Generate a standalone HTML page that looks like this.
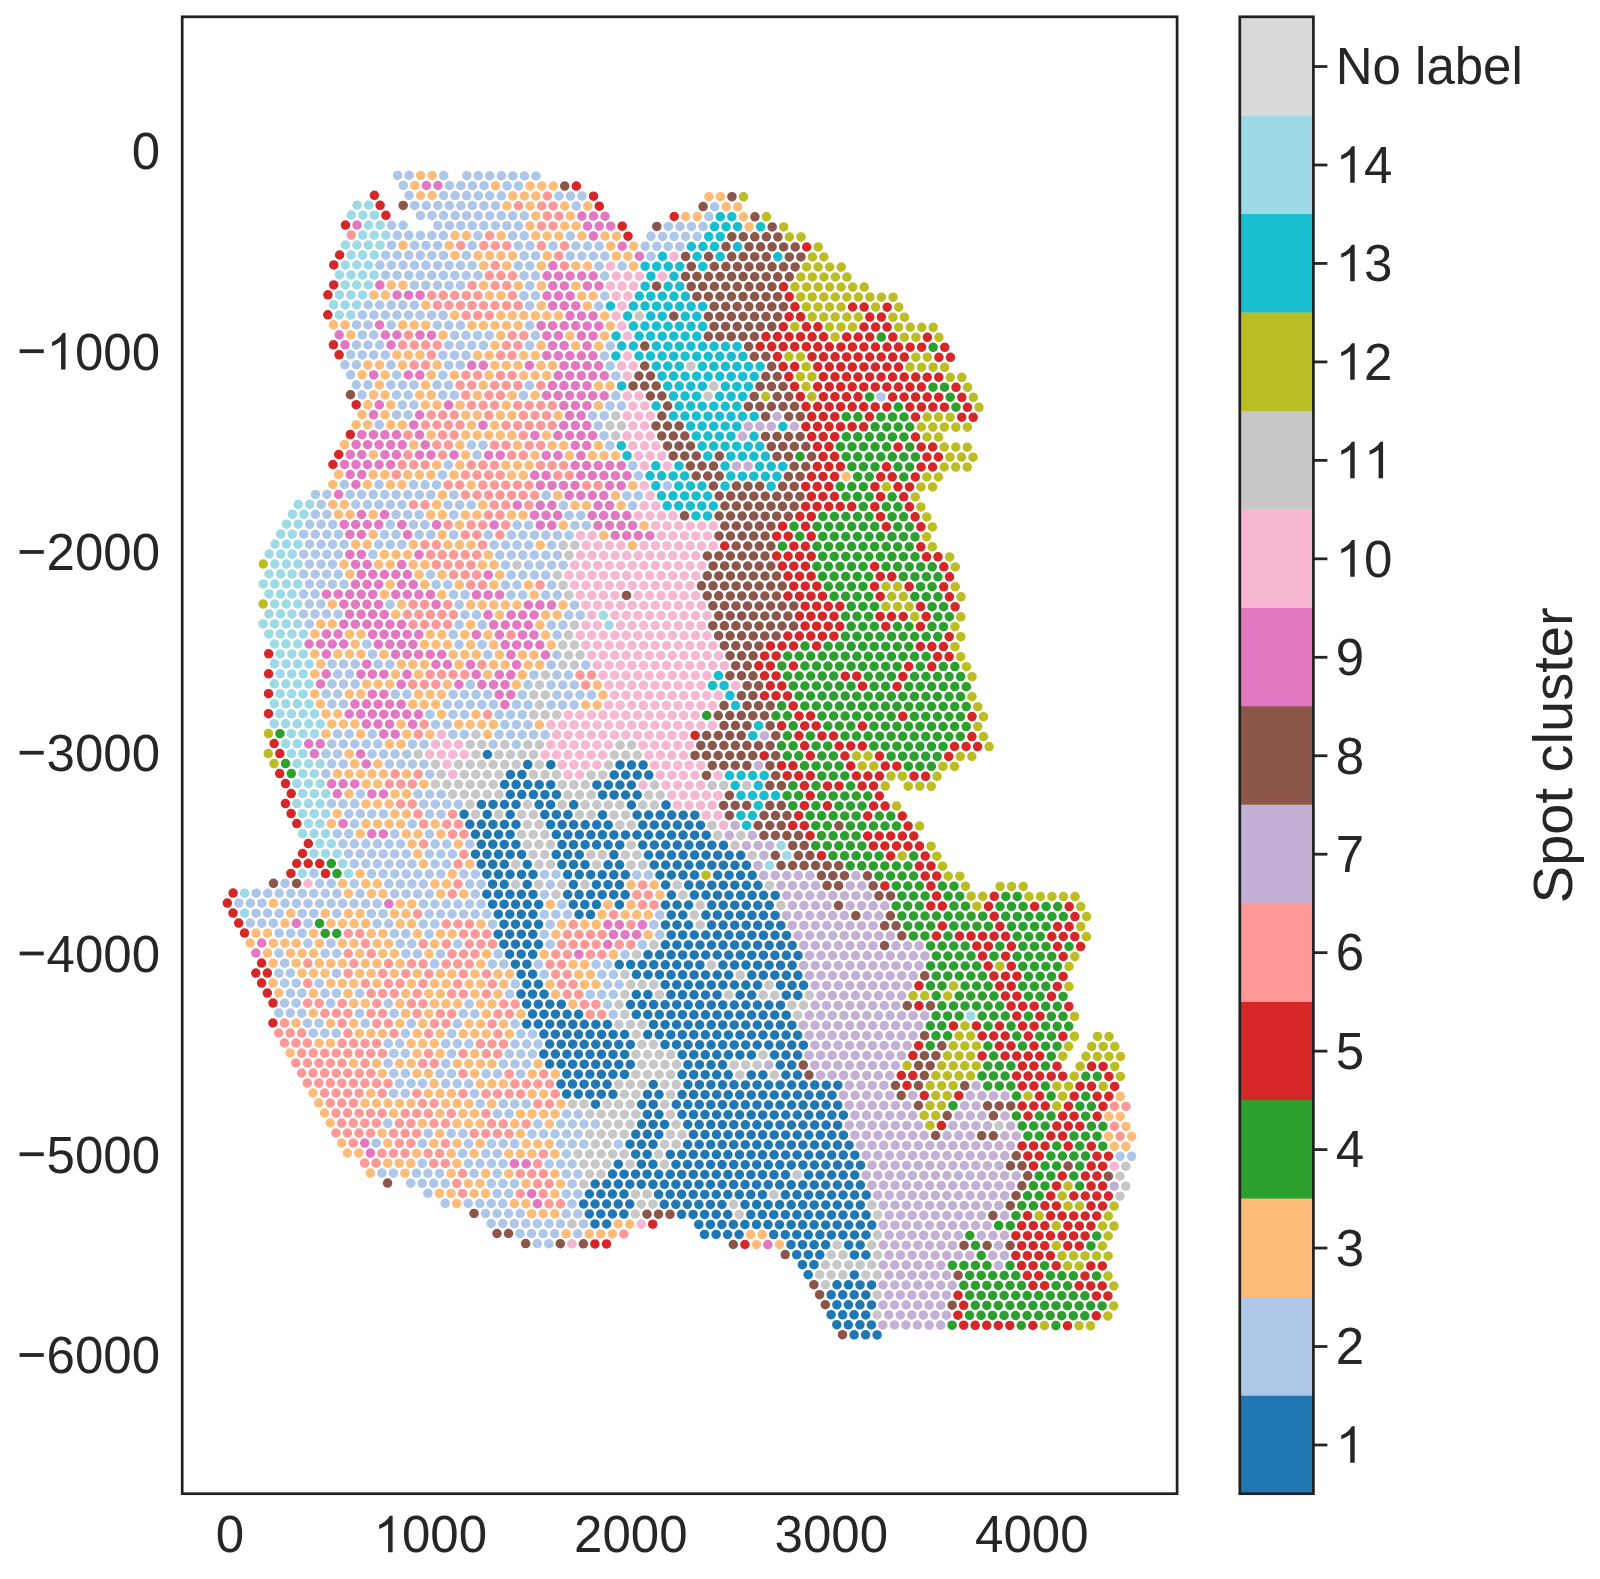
<!DOCTYPE html><html><head><meta charset="utf-8"><style>html,body{margin:0;padding:0;background:#fff;}svg{display:block}</style></head><body>
<svg width="1600" height="1579" viewBox="0 0 1600 1579" style="font-family:'Liberation Sans', sans-serif">
<rect x="0" y="0" width="1600" height="1579" fill="#fff"/>
<path fill="none" stroke="#aec7e8" stroke-width="9.54" stroke-linecap="round" d="M397.6 175.4h0M409.1 175.4h0M443.7 175.6h0M466.8 175.7h0M478.3 175.7h0M489.8 175.8h0M501.4 175.8h0M512.9 175.9h0M524.4 175.9h0M536.0 176.0h0M403.3 185.4h0M449.4 185.6h0M460.9 185.6h0M472.5 185.7h0M484.0 185.7h0M507.1 185.8h0M518.6 185.9h0M409.0 195.4h0M443.6 195.5h0M455.1 195.6h0M466.7 195.6h0M478.2 195.7h0M489.7 195.7h0M501.3 195.8h0M558.9 196.0h0M570.5 196.1h0M582.0 196.1h0M414.7 205.4h0M426.3 205.5h0M437.8 205.5h0M449.3 205.5h0M460.9 205.6h0M472.4 205.6h0M483.9 205.7h0M495.5 205.7h0M576.2 206.1h0M714.6 206.7h0M420.5 215.4h0M432.0 215.5h0M443.5 215.5h0M455.1 215.6h0M466.6 215.6h0M478.1 215.6h0M489.7 215.7h0M501.2 215.7h0M512.7 215.8h0M524.3 215.8h0M708.8 216.6h0M391.6 225.3h0M403.1 225.3h0M437.7 225.5h0M449.3 225.5h0M460.8 225.6h0M472.3 225.6h0M483.8 225.6h0M495.4 225.7h0M506.9 225.7h0M518.4 225.8h0M668.4 226.4h0M679.9 226.5h0M691.4 226.5h0M703.0 226.6h0M397.3 235.3h0M408.8 235.3h0M420.4 235.4h0M431.9 235.4h0M443.4 235.5h0M478.0 235.6h0M512.6 235.7h0M524.2 235.8h0M570.3 236.0h0M651.0 236.3h0M662.6 236.4h0M674.1 236.4h0M685.6 236.5h0M697.2 236.5h0M391.5 245.2h0M414.6 245.3h0M426.1 245.4h0M437.6 245.4h0M472.2 245.6h0M518.4 245.7h0M529.9 245.8h0M553.0 245.9h0M576.0 246.0h0M587.6 246.0h0M599.1 246.1h0M645.2 246.3h0M656.8 246.3h0M668.3 246.4h0M679.8 246.4h0M385.7 255.2h0M397.2 255.2h0M408.8 255.3h0M420.3 255.3h0M431.8 255.4h0M443.4 255.4h0M466.4 255.5h0M524.1 255.8h0M535.6 255.8h0M570.2 255.9h0M581.8 256.0h0M593.3 256.0h0M604.8 256.1h0M651.0 256.3h0M379.9 265.1h0M391.4 265.2h0M403.0 265.2h0M414.5 265.3h0M426.0 265.3h0M437.6 265.4h0M449.1 265.4h0M460.6 265.5h0M472.1 265.5h0M518.3 265.7h0M529.8 265.8h0M599.0 266.0h0M622.1 266.1h0M385.6 275.1h0M397.1 275.2h0M408.7 275.2h0M420.2 275.3h0M431.7 275.3h0M443.3 275.4h0M454.8 275.4h0M466.3 275.5h0M477.9 275.5h0M524.0 275.7h0M535.5 275.8h0M604.7 276.0h0M414.4 285.2h0M425.9 285.3h0M437.5 285.3h0M449.0 285.4h0M460.5 285.4h0M529.7 285.7h0M523.9 295.7h0M535.5 295.7h0M604.7 296.0h0M368.2 305.0h0M379.7 305.0h0M391.3 305.1h0M402.8 305.1h0M414.3 305.2h0M529.6 305.7h0M598.8 306.0h0M362.4 314.9h0M373.9 315.0h0M385.4 315.0h0M397.0 315.1h0M408.5 315.1h0M420.0 315.2h0M431.6 315.2h0M443.1 315.3h0M356.6 324.9h0M368.1 324.9h0M391.2 325.0h0M437.3 325.2h0M448.8 325.3h0M460.4 325.3h0M529.6 325.6h0M362.3 334.9h0M373.8 335.0h0M454.6 335.3h0M466.1 335.3h0M477.6 335.4h0M489.2 335.4h0M535.3 335.6h0M356.5 344.9h0M368.0 344.9h0M379.6 345.0h0M448.8 345.2h0M460.3 345.3h0M471.8 345.3h0M483.4 345.4h0M529.5 345.6h0M610.2 345.9h0M350.7 354.8h0M362.2 354.9h0M373.7 354.9h0M385.3 355.0h0M442.9 355.2h0M454.5 355.2h0M466.0 355.3h0M604.4 355.9h0M344.9 364.8h0M356.4 364.8h0M391.0 365.0h0M448.7 365.2h0M460.2 365.2h0M610.1 365.9h0M350.6 374.8h0M396.7 375.0h0M442.9 375.2h0M615.9 375.9h0M356.3 384.8h0M367.9 384.8h0M390.9 384.9h0M402.5 385.0h0M414.0 385.0h0M437.1 385.1h0M448.6 385.2h0M529.3 385.5h0M362.0 394.8h0M396.6 394.9h0M408.2 395.0h0M442.8 395.1h0M454.3 395.2h0M523.5 395.4h0M615.8 395.8h0M881.0 396.9h0M402.4 404.9h0M413.9 405.0h0M610.0 405.8h0M621.5 405.8h0M396.6 414.9h0M408.1 414.9h0M592.6 415.7h0M604.2 415.7h0M379.2 424.8h0M598.3 425.7h0M604.1 435.7h0M471.4 445.1h0M482.9 445.2h0M609.8 445.7h0M477.1 455.1h0M448.3 465.0h0M632.8 465.7h0M442.4 474.9h0M638.5 475.7h0M344.4 484.5h0M379.0 484.6h0M413.6 484.8h0M425.1 484.8h0M436.6 484.9h0M667.3 485.8h0M315.5 494.4h0M327.0 494.4h0M350.1 494.5h0M361.6 494.5h0M373.2 494.6h0M384.7 494.6h0M396.2 494.7h0M407.8 494.7h0M419.3 494.8h0M430.8 494.8h0M453.9 494.9h0M546.2 495.3h0M626.9 495.7h0M638.4 495.7h0M321.2 504.4h0M355.8 504.5h0M367.4 504.6h0M378.9 504.6h0M390.4 504.6h0M402.0 504.7h0M448.1 504.9h0M459.6 504.9h0M471.2 505.0h0M563.4 505.4h0M632.6 505.7h0M315.4 514.3h0M326.9 514.4h0M396.1 514.6h0M407.7 514.7h0M419.2 514.7h0M453.8 514.9h0M569.1 515.4h0M580.7 515.4h0M309.6 524.3h0M321.1 524.3h0M332.7 524.4h0M390.3 524.6h0M413.4 524.7h0M424.9 524.7h0M517.2 525.1h0M528.7 525.2h0M574.9 525.4h0M586.4 525.4h0M303.8 534.2h0M315.3 534.3h0M326.9 534.3h0M338.4 534.4h0M384.5 534.6h0M396.1 534.6h0M419.1 534.7h0M430.7 534.7h0M453.7 534.8h0M488.3 535.0h0M511.4 535.1h0M522.9 535.1h0M534.5 535.2h0M546.0 535.2h0M557.5 535.3h0M569.1 535.3h0M309.5 544.2h0M321.1 544.3h0M332.6 544.3h0M344.1 544.4h0M378.7 544.5h0M390.3 544.6h0M401.8 544.6h0M494.1 545.0h0M505.6 545.0h0M517.1 545.1h0M528.7 545.1h0M551.7 545.2h0M303.7 554.2h0M315.3 554.2h0M326.8 554.3h0M338.3 554.3h0M372.9 554.5h0M499.8 555.0h0M511.3 555.0h0M522.8 555.1h0M534.4 555.1h0M545.9 555.2h0M557.4 555.2h0M309.4 564.2h0M321.0 564.2h0M332.5 564.3h0M505.5 565.0h0M528.6 565.1h0M540.1 565.1h0M551.6 565.2h0M563.2 565.2h0M303.6 574.1h0M315.2 574.2h0M326.7 574.2h0M338.2 574.3h0M430.5 574.7h0M511.2 575.0h0M522.8 575.0h0M534.3 575.1h0M545.8 575.1h0M309.4 584.1h0M320.9 584.2h0M332.4 584.2h0M344.0 584.3h0M436.2 584.7h0M447.8 584.7h0M505.4 585.0h0M517.0 585.0h0M551.6 585.1h0M303.6 594.1h0M315.1 594.1h0M453.5 594.7h0M465.0 594.8h0M511.1 595.0h0M522.7 595.0h0M545.7 595.1h0M557.3 595.1h0M309.3 604.1h0M320.8 604.1h0M390.0 604.4h0M459.2 604.7h0M574.5 605.2h0M303.5 614.0h0M315.0 614.1h0M326.5 614.1h0M338.1 614.2h0M464.9 614.7h0M476.5 614.8h0M568.7 615.1h0M580.3 615.2h0M309.2 624.0h0M459.1 624.7h0M482.2 624.8h0M551.4 625.1h0M562.9 625.1h0M453.3 634.6h0M557.1 635.1h0M366.8 644.2h0M459.0 644.6h0M482.1 644.7h0M372.5 654.2h0M487.8 654.7h0M557.0 655.0h0M332.1 664.1h0M343.6 664.1h0M355.2 664.1h0M378.2 664.2h0M389.8 664.3h0M551.2 665.0h0M585.8 665.1h0M337.8 674.1h0M349.4 674.1h0M533.9 674.9h0M556.9 675.0h0M568.5 675.0h0M332.0 684.0h0M343.5 684.1h0M355.1 684.1h0M470.4 684.6h0M528.1 684.8h0M551.1 684.9h0M562.7 685.0h0M574.2 685.0h0M326.2 694.0h0M337.7 694.0h0M395.4 694.3h0M406.9 694.3h0M453.1 694.5h0M464.6 694.5h0M476.1 694.6h0M487.7 694.6h0M522.3 694.8h0M556.9 694.9h0M568.4 695.0h0M579.9 695.0h0M591.5 695.1h0M331.9 704.0h0M343.5 704.0h0M447.3 704.4h0M458.8 704.5h0M470.3 704.5h0M481.9 704.6h0M493.4 704.6h0M516.5 704.7h0M528.0 704.8h0M551.1 704.9h0M562.6 704.9h0M574.1 705.0h0M429.9 714.4h0M453.0 714.4h0M464.5 714.5h0M499.1 714.6h0M510.6 714.7h0M522.2 714.7h0M435.6 724.4h0M447.2 724.4h0M504.8 724.6h0M516.4 724.7h0M527.9 724.7h0M337.6 733.9h0M349.1 734.0h0M372.2 734.1h0M452.9 734.4h0M464.4 734.5h0M499.0 734.6h0M510.6 734.6h0M522.1 734.7h0M533.6 734.7h0M545.2 734.8h0M331.8 743.9h0M343.3 743.9h0M354.8 744.0h0M366.4 744.0h0M377.9 744.1h0M412.5 744.2h0M424.0 744.3h0M493.2 744.5h0M516.3 744.6h0M326.0 753.8h0M337.5 753.9h0M372.1 754.0h0M383.6 754.1h0M395.1 754.1h0M406.7 754.2h0M331.7 763.8h0M343.2 763.9h0M389.3 764.1h0M400.9 764.1h0M412.4 764.2h0M423.9 764.2h0M325.9 773.8h0M429.7 774.2h0M360.4 793.9h0M418.0 794.1h0M429.6 794.2h0M441.1 794.2h0M331.5 803.7h0M343.0 803.8h0M354.6 803.8h0M423.8 804.1h0M435.3 804.2h0M446.8 804.2h0M458.4 804.3h0M348.8 813.8h0M360.3 813.8h0M371.8 813.9h0M383.4 813.9h0M429.5 814.1h0M441.0 814.2h0M354.5 823.8h0M412.2 824.0h0M337.2 833.7h0M348.7 833.8h0M394.8 833.9h0M429.4 834.1h0M342.9 843.7h0M354.4 843.8h0M365.9 843.8h0M377.5 843.8h0M389.0 843.9h0M400.5 843.9h0M435.1 844.1h0M446.7 844.1h0M469.7 844.2h0M348.6 853.7h0M360.1 853.8h0M371.7 853.8h0M383.2 853.9h0M394.7 853.9h0M406.3 853.9h0M429.3 854.0h0M440.9 854.1h0M452.4 854.1h0M354.3 863.7h0M365.9 863.8h0M377.4 863.8h0M388.9 863.9h0M400.5 863.9h0M412.0 863.9h0M435.1 864.0h0M446.6 864.1h0M313.9 873.5h0M371.6 873.8h0M383.1 873.8h0M394.7 873.9h0M406.2 873.9h0M417.7 874.0h0M429.2 874.0h0M440.8 874.0h0M463.8 874.1h0M475.4 874.2h0M544.6 874.5h0M556.1 874.5h0M636.8 874.9h0M648.4 874.9h0M285.0 883.4h0M319.6 883.5h0M331.2 883.6h0M354.2 883.7h0M388.8 883.8h0M400.4 883.9h0M411.9 883.9h0M423.4 884.0h0M469.6 884.1h0M481.1 884.2h0M550.3 884.5h0M256.2 893.2h0M267.7 893.3h0M279.2 893.3h0M290.8 893.4h0M302.3 893.4h0M313.8 893.5h0M325.4 893.5h0M336.9 893.6h0M360.0 893.7h0M394.6 893.8h0M406.1 893.9h0M417.6 893.9h0M429.2 894.0h0M475.3 894.1h0M544.5 894.4h0M238.8 903.1h0M250.4 903.2h0M261.9 903.2h0M285.0 903.3h0M296.5 903.4h0M308.0 903.4h0M319.6 903.5h0M331.1 903.5h0M342.6 903.6h0M354.2 903.6h0M365.7 903.7h0M377.2 903.7h0M423.4 903.9h0M434.9 904.0h0M446.4 904.0h0M458.0 904.1h0M469.5 904.1h0M481.0 904.1h0M561.8 904.5h0M256.1 913.2h0M267.6 913.2h0M279.2 913.3h0M302.2 913.4h0M313.8 913.4h0M336.8 913.5h0M371.4 913.7h0M383.0 913.7h0M429.1 913.9h0M440.6 914.0h0M452.1 914.0h0M463.7 914.1h0M475.2 914.1h0M486.7 914.1h0M544.4 914.4h0M555.9 914.4h0M567.5 914.5h0M659.7 914.9h0M250.3 923.1h0M261.8 923.2h0M273.3 923.2h0M307.9 923.4h0M377.1 923.7h0M388.7 923.7h0M423.3 923.9h0M434.8 923.9h0M492.5 924.2h0M550.1 924.4h0M653.9 924.8h0M279.1 933.2h0M290.6 933.3h0M302.1 933.3h0M394.4 933.7h0M405.9 933.8h0M429.0 933.9h0M544.3 934.3h0M659.7 934.8h0M307.9 943.3h0M330.9 943.4h0M400.1 943.7h0M411.7 943.8h0M457.8 944.0h0M550.1 944.3h0M642.3 944.7h0M279.0 953.2h0M325.1 953.4h0M336.7 953.4h0M405.9 953.7h0M417.4 953.8h0M440.5 953.9h0M498.1 954.1h0M625.0 954.6h0M284.7 963.2h0M434.6 963.8h0M492.3 964.1h0M503.8 964.1h0M538.4 964.3h0M596.1 964.5h0M607.6 964.5h0M278.9 973.2h0M290.4 973.2h0M336.6 973.4h0M544.2 974.3h0M601.8 974.5h0M613.4 974.5h0M284.6 983.2h0M296.2 983.2h0M319.2 983.3h0M515.3 984.1h0M607.6 984.5h0M619.1 984.5h0M290.4 993.2h0M301.9 993.2h0M325.0 993.3h0M336.5 993.3h0M359.6 993.4h0M509.5 994.1h0M590.2 994.4h0M601.7 994.5h0M613.3 994.5h0M284.5 1003.1h0M296.1 1003.2h0M330.7 1003.3h0M388.3 1003.5h0M469.1 1003.9h0M607.5 1004.5h0M278.7 1013.1h0M290.3 1013.1h0M301.8 1013.2h0M359.5 1013.4h0M394.1 1013.5h0M463.3 1013.8h0M474.8 1013.9h0M613.2 1014.5h0M307.5 1023.2h0M319.1 1023.2h0M365.2 1023.4h0M411.3 1023.6h0M457.5 1023.8h0M515.1 1024.0h0M313.3 1033.2h0M324.8 1033.2h0M336.3 1033.3h0M405.5 1033.5h0M451.7 1033.7h0M520.8 1034.0h0M532.4 1034.1h0M388.2 1043.5h0M399.7 1043.5h0M445.8 1043.7h0M457.4 1043.7h0M468.9 1043.8h0M515.0 1044.0h0M526.6 1044.0h0M538.1 1044.1h0M393.9 1053.5h0M405.4 1053.5h0M451.6 1053.7h0M509.2 1053.9h0M520.8 1054.0h0M532.3 1054.0h0M388.1 1063.4h0M445.8 1063.7h0M503.4 1063.9h0M515.0 1063.9h0M526.5 1064.0h0M393.8 1073.4h0M405.4 1073.5h0M440.0 1073.6h0M451.5 1073.7h0M486.1 1073.8h0M497.6 1073.8h0M520.7 1073.9h0M399.5 1083.4h0M411.1 1083.5h0M422.6 1083.5h0M445.7 1083.6h0M457.2 1083.7h0M468.7 1083.7h0M393.7 1093.4h0M405.3 1093.4h0M474.5 1093.7h0M480.2 1103.7h0M503.3 1103.8h0M514.8 1103.9h0M526.3 1103.9h0M497.4 1113.8h0M509.0 1113.8h0M566.6 1114.0h0M578.2 1114.1h0M387.8 1123.3h0M537.8 1123.9h0M560.8 1124.0h0M572.4 1124.0h0M583.9 1124.1h0M595.4 1124.1h0M428.2 1133.4h0M451.2 1133.5h0M462.8 1133.6h0M532.0 1133.9h0M543.5 1133.9h0M555.0 1134.0h0M566.6 1134.0h0M578.1 1134.0h0M376.2 1143.2h0M422.4 1143.4h0M468.5 1143.6h0M491.6 1143.7h0M503.1 1143.7h0M514.6 1143.8h0M560.8 1144.0h0M572.3 1144.0h0M583.8 1144.1h0M618.4 1144.2h0M462.7 1153.5h0M485.8 1153.6h0M497.3 1153.7h0M566.5 1154.0h0M1120.1 1156.3h0M1131.6 1156.3h0M422.3 1163.3h0M468.4 1163.5h0M479.9 1163.6h0M491.5 1163.6h0M503.0 1163.7h0M549.1 1163.9h0M560.7 1163.9h0M572.2 1164.0h0M381.9 1173.1h0M393.4 1173.2h0M416.5 1173.3h0M428.0 1173.3h0M439.5 1173.4h0M474.1 1173.5h0M497.2 1173.6h0M566.4 1173.9h0M577.9 1174.0h0M410.7 1183.2h0M422.2 1183.3h0M433.7 1183.3h0M445.3 1183.4h0M491.4 1183.6h0M502.9 1183.6h0M514.5 1183.7h0M572.1 1183.9h0M427.9 1193.3h0M497.1 1193.6h0M508.7 1193.6h0M566.3 1193.9h0M577.8 1193.9h0M445.2 1203.3h0M468.2 1203.4h0M479.8 1203.5h0M491.3 1203.5h0M502.8 1203.6h0M572.0 1203.9h0M485.5 1213.5h0M497.0 1213.5h0M508.6 1213.6h0M520.1 1213.6h0M566.2 1213.8h0M577.8 1213.9h0M491.2 1223.5h0M502.8 1223.5h0M514.3 1223.6h0M525.8 1223.6h0M537.4 1223.7h0M548.9 1223.7h0M560.4 1223.8h0M583.5 1223.9h0M520.0 1233.6h0M531.5 1233.6h0M543.1 1233.7h0M554.6 1233.7h0M577.7 1233.8h0M537.3 1243.6h0M548.8 1243.7h0"/>
<path fill="none" stroke="#ffbb78" stroke-width="9.54" stroke-linecap="round" d="M420.6 175.5h0M432.2 175.5h0M414.8 185.4h0M495.5 185.8h0M530.1 185.9h0M541.7 186.0h0M553.2 186.0h0M420.5 195.5h0M432.1 195.5h0M512.8 195.8h0M524.3 195.9h0M535.9 195.9h0M708.9 196.7h0M720.4 196.7h0M507.0 205.8h0M530.1 205.9h0M564.7 206.0h0M587.7 206.1h0M726.1 206.7h0M737.7 206.8h0M535.8 215.9h0M570.4 216.0h0M685.7 216.5h0M697.2 216.6h0M743.4 216.8h0M530.0 225.8h0M564.6 226.0h0M576.1 226.0h0M749.1 226.8h0M455.0 235.5h0M466.5 235.6h0M501.1 235.7h0M535.7 235.8h0M547.2 235.9h0M558.8 235.9h0M581.8 236.0h0M604.9 236.1h0M616.4 236.2h0M403.0 245.3h0M449.2 245.5h0M610.6 246.1h0M633.7 246.2h0M454.9 255.5h0M478.0 255.6h0M489.5 255.6h0M501.0 255.7h0M512.6 255.7h0M547.2 255.8h0M616.4 256.1h0M627.9 256.2h0M483.7 265.6h0M506.7 265.7h0M541.3 265.8h0M575.9 265.9h0M587.5 266.0h0M633.6 266.2h0M391.3 285.1h0M402.9 285.2h0M483.6 285.5h0M518.2 285.7h0M541.3 285.8h0M575.9 285.9h0M374.0 295.0h0M385.5 295.1h0M489.3 295.5h0M500.9 295.6h0M581.6 295.9h0M593.1 296.0h0M425.9 305.2h0M541.2 305.7h0M587.3 305.9h0M454.6 315.3h0M500.8 315.5h0M512.3 315.6h0M523.8 315.6h0M535.4 315.7h0M546.9 315.7h0M558.4 315.8h0M604.6 316.0h0M333.5 324.8h0M345.0 324.9h0M402.7 325.1h0M414.2 325.1h0M425.8 325.2h0M471.9 325.4h0M483.4 325.4h0M495.0 325.5h0M506.5 325.5h0M518.0 325.6h0M610.3 326.0h0M350.8 334.9h0M443.0 335.2h0M500.7 335.5h0M569.9 335.8h0M604.5 335.9h0M494.9 345.4h0M541.0 345.6h0M575.6 345.8h0M598.7 345.9h0M396.8 355.0h0M408.3 355.1h0M419.9 355.1h0M477.5 355.3h0M489.1 355.4h0M523.7 355.5h0M535.2 355.6h0M367.9 364.9h0M379.5 364.9h0M402.5 365.0h0M437.1 365.1h0M494.8 365.4h0M506.3 365.4h0M517.9 365.5h0M540.9 365.6h0M552.5 365.6h0M362.1 374.8h0M385.2 374.9h0M431.3 375.1h0M454.4 375.2h0M489.0 375.3h0M523.6 375.5h0M535.1 375.5h0M546.7 375.6h0M379.4 384.9h0M425.5 385.1h0M483.2 385.3h0M598.5 385.8h0M610.0 385.8h0M373.6 394.8h0M385.1 394.9h0M419.7 395.0h0M431.2 395.1h0M477.4 395.3h0M512.0 395.4h0M535.0 395.5h0M367.8 404.8h0M390.8 404.9h0M425.4 405.0h0M437.0 405.1h0M460.0 405.2h0M506.2 405.3h0M598.4 405.7h0M362.0 414.7h0M385.0 414.8h0M465.8 415.2h0M477.3 415.2h0M500.4 415.3h0M511.9 415.4h0M558.0 415.5h0M356.2 424.7h0M367.7 424.7h0M390.8 424.8h0M402.3 424.9h0M471.5 425.2h0M494.6 425.3h0M431.1 435.0h0M465.7 435.1h0M477.2 435.2h0M488.7 435.2h0M500.3 435.3h0M511.8 435.3h0M546.4 435.5h0M344.5 444.6h0M413.7 444.9h0M459.9 445.1h0M517.5 445.3h0M552.1 445.5h0M563.7 445.5h0M598.3 445.6h0M373.3 454.7h0M465.6 455.1h0M534.8 455.4h0M569.4 455.5h0M592.5 455.6h0M604.0 455.6h0M615.5 455.7h0M436.7 464.9h0M459.8 465.0h0M505.9 465.2h0M517.5 465.3h0M529.0 465.3h0M338.6 474.5h0M373.2 474.6h0M384.8 474.7h0M407.8 474.8h0M419.4 474.8h0M430.9 474.9h0M454.0 475.0h0M511.6 475.2h0M523.2 475.3h0M846.1 476.6h0M332.8 484.5h0M367.4 484.6h0M390.5 484.7h0M402.0 484.7h0M471.2 485.0h0M632.7 485.7h0M442.4 494.9h0M557.7 495.4h0M615.4 495.6h0M332.8 504.4h0M344.3 504.5h0M436.6 504.8h0M482.7 505.0h0M574.9 505.4h0M586.5 505.5h0M621.1 505.6h0M338.5 514.4h0M350.0 514.5h0M373.1 514.6h0M430.7 514.8h0M442.3 514.8h0M465.3 514.9h0M476.9 515.0h0M511.5 515.1h0M523.0 515.2h0M459.5 524.9h0M563.3 525.3h0M644.1 525.7h0M373.0 534.5h0M442.2 534.8h0M603.7 535.5h0M355.7 544.4h0M367.2 544.5h0M413.3 544.7h0M447.9 544.8h0M459.5 544.8h0M471.0 544.9h0M540.2 545.2h0M632.4 545.6h0M384.4 554.5h0M396.0 554.6h0M407.5 554.6h0M488.2 554.9h0M344.0 564.3h0M378.6 564.5h0M390.2 564.5h0M413.2 564.6h0M424.8 564.7h0M482.4 564.9h0M494.0 564.9h0M349.8 574.3h0M419.0 574.6h0M442.0 574.7h0M499.7 574.9h0M390.1 584.5h0M424.7 584.6h0M459.3 584.8h0M493.9 584.9h0M528.5 585.0h0M384.3 594.4h0M441.9 594.7h0M534.2 595.0h0M332.3 604.2h0M401.5 604.5h0M470.7 604.8h0M482.3 604.8h0M493.8 604.9h0M505.3 604.9h0M516.9 605.0h0M563.0 605.1h0M395.7 614.4h0M499.5 614.9h0M545.7 615.1h0M557.2 615.1h0M320.7 624.1h0M332.3 624.1h0M470.7 624.7h0M539.9 625.0h0M314.9 634.0h0M349.5 634.2h0M361.0 634.2h0M430.2 634.5h0M441.8 634.6h0M464.8 634.7h0M487.9 634.8h0M545.6 635.0h0M355.2 644.2h0M424.4 644.5h0M436.0 644.5h0M447.5 644.6h0M470.6 644.7h0M493.6 644.8h0M551.3 645.0h0M314.8 654.0h0M337.9 654.1h0M349.4 654.1h0M361.0 654.2h0M384.0 654.3h0M453.2 654.6h0M464.8 654.6h0M476.3 654.7h0M499.4 654.8h0M522.4 654.9h0M534.0 654.9h0M320.6 664.0h0M401.3 664.3h0M412.8 664.4h0M424.4 664.4h0M459.0 664.6h0M493.6 664.7h0M505.1 664.8h0M528.2 664.9h0M539.7 664.9h0M314.8 674.0h0M395.5 674.3h0M418.5 674.4h0M487.7 674.7h0M522.3 674.8h0M366.6 684.2h0M378.1 684.2h0M389.7 684.2h0M447.3 684.5h0M516.5 684.8h0M597.3 685.1h0M314.7 693.9h0M349.3 694.1h0M360.8 694.1h0M418.5 694.3h0M430.0 694.4h0M441.5 694.4h0M603.0 695.1h0M320.4 703.9h0M412.7 704.3h0M424.2 704.3h0M435.7 704.4h0M585.7 705.0h0M597.2 705.1h0M326.1 713.9h0M337.7 714.0h0M441.4 714.4h0M476.0 714.5h0M331.8 723.9h0M343.4 724.0h0M354.9 724.0h0M401.0 724.2h0M458.7 724.4h0M470.2 724.5h0M481.8 724.5h0M493.3 724.6h0M539.4 724.8h0M326.0 733.9h0M360.6 734.0h0M406.8 734.2h0M429.8 734.3h0M487.5 734.5h0M389.4 744.1h0M401.0 744.2h0M349.0 753.9h0M354.7 763.9h0M377.8 764.0h0M337.4 773.8h0M348.9 773.9h0M360.5 773.9h0M372.0 774.0h0M383.5 774.0h0M406.6 774.1h0M366.2 783.9h0M377.7 784.0h0M423.9 784.2h0M348.9 793.8h0M395.0 794.0h0M406.5 794.1h0M366.1 803.9h0M377.6 803.9h0M389.2 804.0h0M337.2 813.7h0M394.9 814.0h0M406.4 814.0h0M331.4 823.7h0M366.0 823.8h0M377.6 823.9h0M389.1 823.9h0M400.6 824.0h0M435.2 824.1h0M360.2 833.8h0M406.4 834.0h0M417.9 834.0h0M440.9 834.1h0M412.1 844.0h0M458.2 844.2h0M417.8 854.0h0M423.5 864.0h0M469.7 864.2h0M360.1 873.7h0M452.3 874.1h0M342.7 883.6h0M365.8 883.7h0M377.3 883.8h0M435.0 884.0h0M446.5 884.0h0M631.0 884.8h0M654.1 884.9h0M348.4 893.6h0M371.5 893.7h0M383.0 893.8h0M440.7 894.0h0M463.8 894.1h0M659.8 894.9h0M273.4 903.3h0M400.3 903.8h0M411.8 903.9h0M550.2 904.4h0M607.9 904.7h0M631.0 904.8h0M290.7 913.3h0M325.3 913.5h0M348.4 913.6h0M359.9 913.6h0M394.5 913.8h0M406.0 913.8h0M602.1 914.6h0M625.1 914.7h0M636.7 914.8h0M648.2 914.8h0M284.9 923.3h0M331.0 923.5h0M342.5 923.5h0M354.1 923.6h0M365.6 923.6h0M400.2 923.8h0M411.7 923.8h0M480.9 924.1h0M561.7 924.4h0M584.7 924.5h0M596.3 924.6h0M256.0 933.1h0M267.5 933.2h0M313.7 933.4h0M371.3 933.6h0M382.9 933.7h0M417.5 933.8h0M440.5 933.9h0M452.1 934.0h0M555.9 934.4h0M648.1 934.8h0M250.2 943.1h0M273.3 943.2h0M284.8 943.2h0M296.3 943.3h0M319.4 943.4h0M342.5 943.5h0M354.0 943.5h0M377.1 943.6h0M388.6 943.7h0M434.7 943.9h0M267.5 953.1h0M290.5 953.2h0M302.1 953.3h0M313.6 953.3h0M359.7 953.5h0M382.8 953.6h0M394.3 953.7h0M428.9 953.8h0M486.6 954.1h0M544.2 954.3h0M613.4 954.6h0M273.2 963.2h0M296.2 963.2h0M319.3 963.3h0M330.8 963.4h0M342.4 963.4h0M365.4 963.5h0M377.0 963.6h0M400.0 963.7h0M480.8 964.0h0M573.0 964.4h0M584.6 964.4h0M302.0 973.2h0M313.5 973.3h0M325.0 973.3h0M359.6 973.5h0M371.2 973.5h0M394.2 973.6h0M417.3 973.7h0M440.4 973.8h0M451.9 973.9h0M475.0 974.0h0M498.0 974.1h0M509.6 974.1h0M578.8 974.4h0M590.3 974.4h0M273.1 983.1h0M330.8 983.3h0M342.3 983.4h0M353.8 983.4h0M376.9 983.5h0M411.5 983.7h0M434.6 983.8h0M446.1 983.8h0M469.2 983.9h0M480.7 984.0h0M503.8 984.1h0M549.9 984.3h0M584.5 984.4h0M596.0 984.5h0M278.8 993.1h0M313.4 993.3h0M348.0 993.4h0M405.7 993.6h0M428.8 993.7h0M440.3 993.8h0M474.9 993.9h0M497.9 994.0h0M555.6 994.3h0M353.7 1003.4h0M365.3 1003.4h0M399.9 1003.6h0M434.5 1003.7h0M446.0 1003.8h0M457.5 1003.8h0M480.6 1003.9h0M492.1 1004.0h0M572.9 1004.3h0M313.3 1013.2h0M405.6 1013.6h0M428.7 1013.7h0M486.3 1013.9h0M520.9 1014.1h0M296.0 1023.1h0M330.6 1023.3h0M353.7 1023.4h0M399.8 1023.5h0M422.9 1023.6h0M469.0 1023.8h0M480.5 1023.9h0M503.6 1024.0h0M359.4 1033.4h0M370.9 1033.4h0M382.5 1033.5h0M417.1 1033.6h0M440.1 1033.7h0M463.2 1033.8h0M474.7 1033.8h0M486.2 1033.9h0M509.3 1034.0h0M319.0 1043.2h0M330.5 1043.2h0M411.2 1043.6h0M422.8 1043.6h0M434.3 1043.6h0M290.1 1053.0h0M417.0 1053.6h0M440.0 1053.6h0M474.6 1053.8h0M353.5 1063.3h0M376.6 1063.4h0M399.6 1063.5h0M411.2 1063.5h0M457.3 1063.7h0M468.8 1063.7h0M480.4 1063.8h0M491.9 1063.8h0M538.0 1064.0h0M382.3 1073.4h0M416.9 1073.5h0M428.4 1073.6h0M474.6 1073.7h0M532.2 1074.0h0M555.3 1074.1h0M434.1 1083.6h0M480.3 1083.8h0M491.8 1083.8h0M503.3 1083.8h0M313.0 1093.0h0M370.7 1093.3h0M428.3 1093.5h0M439.9 1093.6h0M451.4 1093.6h0M532.1 1093.9h0M543.7 1094.0h0M1120.3 1096.4h0M318.7 1103.0h0M364.9 1103.2h0M376.4 1103.3h0M387.9 1103.3h0M399.5 1103.4h0M411.0 1103.4h0M445.6 1103.6h0M457.1 1103.6h0M468.7 1103.7h0M491.7 1103.8h0M560.9 1104.0h0M324.5 1113.0h0M393.7 1113.3h0M439.8 1113.5h0M462.9 1113.6h0M474.4 1113.7h0M520.5 1113.9h0M532.0 1113.9h0M543.6 1113.9h0M555.1 1114.0h0M1108.7 1116.3h0M1120.2 1116.4h0M330.2 1123.0h0M422.4 1123.4h0M457.0 1123.6h0M468.6 1123.6h0M480.1 1123.7h0M514.7 1123.8h0M549.3 1124.0h0M1126.0 1126.4h0M382.0 1133.2h0M439.7 1133.5h0M520.4 1133.8h0M1108.6 1136.3h0M1131.7 1136.4h0M341.6 1143.0h0M387.8 1143.2h0M433.9 1143.4h0M457.0 1143.5h0M480.0 1143.6h0M526.2 1143.8h0M537.7 1143.9h0M549.2 1143.9h0M1114.3 1146.3h0M1125.9 1146.3h0M347.4 1153.0h0M358.9 1153.1h0M416.6 1153.3h0M451.2 1153.5h0M474.2 1153.6h0M508.8 1153.7h0M520.3 1153.8h0M531.9 1153.8h0M554.9 1153.9h0M387.7 1163.2h0M399.2 1163.2h0M410.7 1163.3h0M456.9 1163.5h0M370.3 1173.1h0M404.9 1173.2h0M451.1 1173.4h0M485.7 1173.6h0M508.7 1173.7h0M554.9 1173.9h0M468.3 1183.5h0M479.9 1183.5h0M526.0 1183.7h0M560.6 1183.9h0M439.5 1193.3h0M451.0 1193.4h0M474.1 1193.5h0M485.6 1193.5h0M554.8 1193.8h0M456.7 1203.4h0M514.4 1203.6h0M525.9 1203.7h0M531.6 1213.7h0M543.2 1213.7h0M554.7 1213.8h0M618.1 1224.0h0M629.6 1224.1h0M566.1 1233.8h0M589.2 1233.9h0M600.7 1233.9h0M612.3 1234.0h0M750.7 1234.5h0M762.2 1234.6h0M756.4 1244.5h0M779.5 1244.6h0"/>
<path fill="none" stroke="#e377c2" stroke-width="9.54" stroke-linecap="round" d="M426.4 185.5h0M437.9 185.5h0M581.9 216.1h0M593.5 216.1h0M605.0 216.2h0M357.0 225.1h0M587.6 226.1h0M599.2 226.1h0M610.7 226.2h0M593.4 236.1h0M622.2 246.2h0M639.4 256.2h0M552.9 265.8h0M547.1 275.8h0M558.6 275.9h0M570.1 275.9h0M581.7 275.9h0M593.2 276.0h0M379.8 285.1h0M552.8 285.8h0M564.3 285.9h0M587.4 285.9h0M598.9 286.0h0M397.1 295.1h0M408.6 295.2h0M420.1 295.2h0M547.0 295.8h0M558.5 295.8h0M570.1 295.9h0M552.7 305.8h0M564.2 305.8h0M575.8 305.9h0M570.0 315.8h0M581.5 315.9h0M593.0 315.9h0M379.6 325.0h0M541.1 325.7h0M552.6 325.7h0M564.2 325.8h0M575.7 325.8h0M587.2 325.9h0M598.8 325.9h0M339.2 334.8h0M385.4 335.0h0M396.9 335.0h0M420.0 335.1h0M431.5 335.2h0M546.8 335.7h0M558.4 335.7h0M581.4 335.8h0M593.0 335.9h0M345.0 344.8h0M391.1 345.0h0M552.5 345.7h0M564.1 345.7h0M587.1 345.8h0M546.7 355.6h0M558.3 355.7h0M569.8 355.7h0M581.3 355.8h0M592.9 355.8h0M471.7 365.3h0M483.3 365.3h0M529.4 365.5h0M564.0 365.7h0M575.5 365.7h0M587.1 365.8h0M598.6 365.8h0M373.7 374.9h0M408.3 375.0h0M419.8 375.1h0M558.2 375.6h0M569.7 375.7h0M581.3 375.7h0M592.8 375.8h0M604.3 375.8h0M552.4 385.6h0M563.9 385.6h0M575.4 385.7h0M587.0 385.7h0M546.6 395.5h0M558.1 395.6h0M569.6 395.6h0M581.2 395.7h0M592.7 395.7h0M604.2 395.8h0M379.3 404.8h0M448.5 405.1h0M563.8 405.6h0M575.4 405.6h0M586.9 405.7h0M373.5 414.8h0M419.6 415.0h0M569.6 415.6h0M581.1 415.6h0M413.8 424.9h0M483.0 425.2h0M563.7 425.5h0M575.3 425.6h0M586.8 425.6h0M361.9 434.7h0M373.4 434.7h0M384.9 434.8h0M396.5 434.8h0M419.5 434.9h0M534.9 435.4h0M557.9 435.5h0M569.5 435.5h0M581.0 435.6h0M592.5 435.6h0M356.1 444.6h0M367.6 444.7h0M379.1 444.7h0M390.7 444.8h0M402.2 444.8h0M425.3 444.9h0M575.2 445.5h0M586.7 445.6h0M350.3 454.6h0M361.8 454.6h0M384.9 454.7h0M396.4 454.8h0M419.5 454.9h0M431.0 454.9h0M454.1 455.0h0M488.7 455.2h0M500.2 455.2h0M546.3 455.4h0M557.9 455.5h0M580.9 455.6h0M344.5 464.5h0M356.0 464.6h0M367.5 464.6h0M379.1 464.7h0M390.6 464.7h0M575.1 465.5h0M586.6 465.6h0M598.2 465.6h0M609.7 465.6h0M621.2 465.7h0M350.2 474.5h0M361.7 474.6h0M534.7 475.3h0M546.2 475.4h0M580.8 475.5h0M592.4 475.6h0M603.9 475.6h0M615.4 475.7h0M627.0 475.7h0M355.9 484.5h0M540.4 485.3h0M552.0 485.4h0M563.5 485.4h0M575.0 485.5h0M609.6 485.6h0M621.2 485.7h0M338.6 494.5h0M569.2 495.4h0M580.8 495.5h0M592.3 495.5h0M603.8 495.6h0M517.3 505.2h0M540.3 505.3h0M551.9 505.3h0M598.0 505.5h0M609.5 505.6h0M361.5 514.5h0M384.6 514.6h0M534.5 515.2h0M546.1 515.3h0M557.6 515.3h0M592.2 515.5h0M603.7 515.5h0M615.3 515.6h0M626.8 515.6h0M344.2 524.4h0M355.7 524.5h0M367.3 524.5h0M378.8 524.6h0M401.9 524.7h0M436.5 524.8h0M494.1 525.0h0M540.3 525.2h0M551.8 525.3h0M597.9 525.5h0M609.5 525.5h0M621.0 525.6h0M632.5 525.6h0M349.9 534.4h0M361.5 534.5h0M407.6 534.7h0M615.2 535.5h0M626.7 535.6h0M638.3 535.6h0M649.8 535.7h0M349.8 554.4h0M361.4 554.4h0M419.0 554.7h0M355.6 564.4h0M367.1 564.4h0M401.7 564.6h0M361.3 574.4h0M372.8 574.4h0M384.4 574.5h0M395.9 574.5h0M407.4 574.6h0M488.2 574.9h0M355.5 584.3h0M367.0 584.4h0M378.6 584.4h0M401.6 584.5h0M413.2 584.6h0M326.6 594.2h0M338.2 594.2h0M349.7 594.3h0M361.2 594.3h0M372.7 594.4h0M395.8 594.5h0M407.3 594.5h0M418.9 594.6h0M430.4 594.6h0M476.5 594.8h0M488.1 594.9h0M499.6 594.9h0M343.9 604.2h0M355.4 604.3h0M366.9 604.3h0M378.5 604.4h0M436.1 604.6h0M528.4 605.0h0M539.9 605.1h0M551.5 605.1h0M349.6 614.2h0M361.1 614.3h0M372.7 614.3h0M384.2 614.4h0M488.0 614.8h0M511.1 614.9h0M522.6 615.0h0M534.1 615.0h0M343.8 624.2h0M355.3 624.2h0M366.9 624.3h0M378.4 624.3h0M389.9 624.4h0M401.5 624.4h0M493.7 624.8h0M505.3 624.9h0M516.8 624.9h0M528.3 625.0h0M326.5 634.1h0M338.0 634.1h0M372.6 634.3h0M384.1 634.3h0M395.6 634.4h0M407.2 634.4h0M418.7 634.5h0M476.4 634.7h0M499.4 634.8h0M522.5 634.9h0M534.0 635.0h0M309.1 644.0h0M320.6 644.0h0M332.2 644.1h0M343.7 644.1h0M378.3 644.3h0M389.8 644.3h0M401.4 644.4h0M412.9 644.4h0M505.2 644.8h0M516.7 644.9h0M528.2 644.9h0M539.8 645.0h0M326.4 654.1h0M395.6 654.3h0M407.1 654.4h0M418.6 654.4h0M430.2 654.5h0M441.7 654.5h0M510.9 654.8h0M545.5 655.0h0M366.7 664.2h0M435.9 664.5h0M447.4 664.5h0M470.5 664.6h0M516.6 664.8h0M326.3 674.0h0M360.9 674.2h0M372.4 674.2h0M383.9 674.2h0M407.0 674.3h0M476.2 674.6h0M499.3 674.7h0M510.8 674.8h0M320.5 684.0h0M401.2 684.3h0M458.9 684.5h0M481.9 684.6h0M493.5 684.7h0M505.0 684.7h0M372.3 694.2h0M383.9 694.2h0M499.2 694.7h0M510.7 694.7h0M355.0 704.1h0M366.5 704.1h0M378.1 704.2h0M389.6 704.2h0M401.1 704.3h0M504.9 704.7h0M349.2 714.0h0M360.7 714.1h0M372.3 714.1h0M383.8 714.2h0M395.3 714.2h0M406.8 714.3h0M418.4 714.3h0M366.4 724.1h0M378.0 724.1h0M389.5 724.2h0M412.6 724.3h0M383.7 734.1h0M395.2 734.2h0M308.7 743.8h0M320.2 743.8h0M314.4 753.8h0M360.6 754.0h0M366.3 764.0h0M331.6 783.8h0M343.1 783.8h0M354.7 783.9h0M337.3 793.8h0M371.9 793.9h0M383.5 794.0h0M343.0 823.7h0M371.8 833.8h0M383.3 833.9h0M388.8 903.8h0M296.4 923.3h0M607.8 924.6h0M619.3 924.7h0M642.4 924.8h0M613.5 934.6h0M625.1 934.7h0M636.6 934.7h0M261.7 943.1h0M607.7 944.6h0M255.9 953.1h0M578.8 954.4h0M364.7 1143.1h0M370.4 1153.1h0M514.5 1163.7h0M526.1 1163.8h0M531.7 1193.7h0M537.4 1203.7h0M767.9 1244.6h0"/>
<path fill="none" stroke="#8c564b" stroke-width="9.54" stroke-linecap="round" d="M564.7 186.1h0M731.9 196.7h0M403.2 205.4h0M703.1 206.6h0M754.9 216.8h0M656.8 226.4h0M772.2 226.9h0M731.8 236.7h0M743.3 236.7h0M754.8 236.8h0M766.4 236.8h0M777.9 236.9h0M726.0 246.6h0M749.0 246.7h0M760.6 246.8h0M772.1 246.8h0M783.6 246.9h0M795.2 246.9h0M685.6 256.4h0M708.6 256.5h0M731.7 256.6h0M743.2 256.7h0M754.7 256.7h0M766.3 256.8h0M789.3 256.9h0M800.9 256.9h0M691.3 266.4h0M714.3 266.5h0M725.9 266.6h0M737.4 266.6h0M748.9 266.7h0M760.5 266.7h0M772.0 266.8h0M783.5 266.8h0M795.1 266.9h0M685.5 276.4h0M697.0 276.4h0M708.5 276.5h0M720.1 276.5h0M731.6 276.6h0M743.1 276.6h0M754.7 276.7h0M766.2 276.7h0M777.7 276.8h0M789.3 276.8h0M656.6 286.2h0M691.2 286.4h0M702.7 286.4h0M714.3 286.5h0M725.8 286.5h0M737.3 286.6h0M748.9 286.6h0M760.4 286.7h0M771.9 286.7h0M696.9 296.4h0M708.4 296.4h0M720.0 296.5h0M731.5 296.5h0M743.0 296.6h0M754.6 296.6h0M766.1 296.7h0M777.6 296.7h0M714.2 306.4h0M725.7 306.5h0M737.2 306.5h0M748.8 306.6h0M760.3 306.6h0M771.8 306.7h0M783.4 306.7h0M673.8 316.2h0M708.4 316.4h0M719.9 316.4h0M731.4 316.5h0M743.0 316.5h0M754.5 316.6h0M766.0 316.6h0M777.6 316.7h0M714.1 326.4h0M725.6 326.4h0M737.2 326.5h0M748.7 326.5h0M760.2 326.6h0M771.8 326.6h0M708.3 336.3h0M719.8 336.4h0M731.3 336.4h0M742.9 336.5h0M754.4 336.5h0M644.8 346.1h0M748.6 346.5h0M754.3 356.5h0M765.9 356.5h0M644.7 366.0h0M771.6 366.5h0M638.9 376.0h0M650.5 376.0h0M765.8 376.5h0M777.3 376.5h0M633.1 385.9h0M644.6 386.0h0M656.2 386.0h0M760.0 386.4h0M771.5 386.5h0M783.0 386.5h0M350.5 394.7h0M650.4 396.0h0M661.9 396.0h0M754.2 396.4h0M777.2 396.5h0M788.8 396.5h0M667.6 406.0h0M748.4 406.4h0M759.9 406.4h0M771.4 406.5h0M783.0 406.5h0M794.5 406.5h0M661.8 416.0h0M765.6 416.4h0M788.7 416.5h0M800.2 416.6h0M656.0 425.9h0M667.5 426.0h0M679.1 426.0h0M661.7 435.9h0M673.3 436.0h0M684.8 436.0h0M765.5 436.4h0M777.1 436.4h0M788.6 436.5h0M800.1 436.5h0M667.5 445.9h0M679.0 446.0h0M690.5 446.0h0M771.3 446.4h0M782.8 446.4h0M794.3 446.5h0M805.9 446.5h0M673.2 455.9h0M684.7 456.0h0M696.3 456.0h0M719.3 456.1h0M777.0 456.4h0M788.5 456.4h0M811.6 456.5h0M690.4 466.0h0M702.0 466.0h0M713.5 466.1h0M794.2 466.4h0M805.8 466.5h0M696.2 476.0h0M707.7 476.0h0M719.2 476.1h0M788.4 476.4h0M800.0 476.4h0M713.4 486.0h0M736.5 486.1h0M748.0 486.2h0M759.6 486.2h0M782.6 486.3h0M794.2 486.4h0M719.2 496.0h0M730.7 496.1h0M742.2 496.1h0M753.8 496.2h0M765.3 496.2h0M776.8 496.3h0M788.3 496.3h0M799.9 496.4h0M724.9 506.0h0M736.4 506.1h0M747.9 506.1h0M759.5 506.2h0M771.0 506.2h0M782.5 506.3h0M794.1 506.3h0M684.5 515.8h0M719.1 516.0h0M730.6 516.0h0M742.1 516.1h0M753.7 516.1h0M765.2 516.2h0M776.7 516.2h0M788.3 516.3h0M724.8 526.0h0M736.3 526.0h0M747.9 526.1h0M759.4 526.1h0M770.9 526.2h0M719.0 535.9h0M730.5 536.0h0M742.1 536.0h0M753.6 536.1h0M765.1 536.1h0M736.2 546.0h0M747.8 546.0h0M759.3 546.1h0M770.8 546.1h0M707.4 555.9h0M718.9 555.9h0M730.4 556.0h0M742.0 556.0h0M753.5 556.0h0M765.0 556.1h0M713.1 565.9h0M724.6 565.9h0M736.2 566.0h0M747.7 566.0h0M759.2 566.1h0M770.8 566.1h0M707.3 575.8h0M718.8 575.9h0M730.4 575.9h0M741.9 576.0h0M753.4 576.0h0M765.0 576.1h0M776.5 576.1h0M701.5 585.8h0M713.0 585.8h0M724.5 585.9h0M736.1 585.9h0M747.6 586.0h0M759.1 586.0h0M770.7 586.1h0M782.2 586.1h0M626.5 595.4h0M707.2 595.8h0M718.7 595.8h0M730.3 595.9h0M741.8 595.9h0M753.3 596.0h0M764.9 596.0h0M776.4 596.1h0M712.9 605.8h0M724.5 605.8h0M736.0 605.9h0M747.5 605.9h0M759.1 606.0h0M770.6 606.0h0M782.1 606.1h0M793.7 606.1h0M718.7 615.8h0M730.2 615.8h0M741.7 615.9h0M753.3 615.9h0M764.8 616.0h0M776.3 616.0h0M787.9 616.1h0M712.8 625.7h0M724.4 625.8h0M735.9 625.8h0M747.4 625.9h0M759.0 625.9h0M770.5 626.0h0M782.0 626.0h0M793.6 626.1h0M718.6 635.7h0M730.1 635.8h0M741.6 635.8h0M753.2 635.9h0M764.7 635.9h0M776.2 636.0h0M724.3 645.7h0M735.8 645.8h0M747.4 645.8h0M758.9 645.9h0M730.0 655.7h0M741.6 655.8h0M753.1 655.8h0M735.7 665.7h0M747.3 665.8h0M729.9 675.7h0M741.5 675.7h0M753.0 675.8h0M747.2 685.7h0M758.7 685.8h0M741.4 695.7h0M752.9 695.7h0M724.0 705.6h0M747.1 705.7h0M758.6 705.7h0M770.2 705.8h0M718.2 715.6h0M729.8 715.6h0M741.3 715.6h0M752.8 715.7h0M764.4 715.7h0M724.0 725.6h0M735.5 725.6h0M747.0 725.7h0M770.1 725.7h0M706.6 735.5h0M718.2 735.5h0M729.7 735.6h0M741.2 735.6h0M775.8 735.7h0M700.8 745.4h0M712.3 745.5h0M723.9 745.5h0M735.4 745.6h0M746.9 745.6h0M758.5 745.7h0M770.0 745.7h0M695.0 755.4h0M706.5 755.4h0M718.1 755.5h0M729.6 755.5h0M741.1 755.6h0M752.7 755.6h0M775.7 755.7h0M712.3 765.4h0M723.8 765.5h0M735.3 765.5h0M746.9 765.6h0M769.9 765.7h0M706.5 775.4h0M775.7 775.7h0M769.8 785.6h0M781.4 785.7h0M729.4 795.4h0M723.6 805.4h0M735.2 805.4h0M746.7 805.5h0M769.8 805.6h0M781.3 805.6h0M729.4 815.4h0M764.0 815.5h0M775.5 815.6h0M787.0 815.6h0M758.1 825.5h0M769.7 825.5h0M781.2 825.6h0M838.9 825.8h0M763.9 835.5h0M775.4 835.5h0M786.9 835.6h0M798.5 835.6h0M792.7 845.6h0M804.2 845.6h0M775.3 855.5h0M798.4 855.6h0M809.9 855.6h0M781.0 865.5h0M792.6 865.5h0M804.1 865.6h0M815.6 865.6h0M827.2 865.7h0M838.7 865.7h0M821.4 875.6h0M832.9 875.7h0M844.4 875.7h0M867.5 875.8h0M273.5 883.3h0M296.6 883.4h0M827.1 885.6h0M838.6 885.7h0M873.2 885.8h0M878.9 895.8h0M890.5 895.9h0M838.5 905.6h0M855.8 915.7h0M890.4 915.8h0M884.6 925.8h0M896.1 925.8h0M901.8 935.8h0M884.5 945.7h0M924.7 975.8h0M907.3 1005.7h0M930.4 1005.8h0M924.5 1035.7h0M941.8 1045.8h0M924.4 1055.7h0M935.9 1055.7h0M803.3 1065.1h0M918.6 1065.6h0M930.1 1065.7h0M809.0 1075.1h0M924.3 1075.6h0M895.5 1085.5h0M918.5 1085.6h0M964.7 1085.8h0M901.2 1095.5h0M918.4 1105.5h0M987.6 1105.8h0M999.2 1105.9h0M1010.7 1105.9h0M947.2 1115.6h0M993.4 1115.8h0M935.6 1135.5h0M981.7 1135.7h0M993.3 1135.8h0M1016.3 1155.8h0M1010.5 1165.8h0M1022.0 1165.8h0M1068.1 1166.0h0M1027.7 1175.8h0M1108.4 1176.2h0M387.6 1183.1h0M1021.9 1185.8h0M1016.1 1195.7h0M1010.3 1205.7h0M474.0 1213.4h0M647.0 1214.2h0M658.5 1214.2h0M670.0 1214.3h0M992.9 1215.6h0M497.0 1233.5h0M508.5 1233.5h0M525.7 1243.6h0M560.3 1243.7h0M583.4 1243.8h0M733.3 1244.5h0M964.0 1245.4h0M987.1 1245.5h0M1010.1 1245.6h0M785.2 1254.6h0M958.1 1275.3h0M813.9 1284.7h0M819.6 1294.7h0M825.3 1304.7h0M952.2 1305.2h0M842.5 1334.7h0"/>
<path fill="none" stroke="#d62728" stroke-width="9.54" stroke-linecap="round" d="M576.3 186.1h0M374.4 195.3h0M593.5 196.2h0M380.1 205.3h0M599.3 206.2h0M385.9 215.3h0M674.2 216.5h0M345.5 225.1h0M622.2 226.2h0M628.0 236.2h0M806.7 247.0h0M339.6 255.0h0M333.8 264.9h0M333.7 284.9h0M783.5 286.8h0M327.9 294.8h0M789.2 296.8h0M794.9 306.8h0M852.6 307.0h0M864.1 307.1h0M887.2 307.2h0M327.8 314.8h0M789.1 316.7h0M800.6 316.8h0M869.8 317.1h0M881.4 317.1h0M783.3 326.7h0M806.4 326.8h0M817.9 326.8h0M864.0 327.0h0M875.6 327.1h0M887.1 327.1h0M765.9 336.6h0M777.5 336.6h0M789.0 336.7h0M800.5 336.7h0M812.1 336.8h0M823.6 336.8h0M846.7 336.9h0M858.2 337.0h0M869.7 337.0h0M892.8 337.1h0M927.4 337.3h0M333.4 344.8h0M760.1 346.5h0M771.7 346.6h0M783.2 346.6h0M794.7 346.7h0M806.3 346.7h0M817.8 346.8h0M829.3 346.8h0M840.9 346.9h0M852.4 346.9h0M863.9 347.0h0M875.5 347.0h0M887.0 347.1h0M898.5 347.1h0M910.1 347.2h0M921.6 347.2h0M944.7 347.3h0M339.1 354.8h0M777.4 356.6h0M812.0 356.7h0M823.5 356.8h0M835.1 356.8h0M846.6 356.9h0M858.1 356.9h0M869.7 357.0h0M881.2 357.0h0M892.7 357.1h0M904.3 357.1h0M938.9 357.3h0M950.4 357.3h0M783.1 366.6h0M794.7 366.6h0M817.7 366.7h0M829.3 366.8h0M840.8 366.8h0M852.3 366.9h0M863.9 366.9h0M875.4 367.0h0M886.9 367.0h0M898.5 367.1h0M788.8 376.6h0M823.4 376.7h0M835.0 376.8h0M846.5 376.8h0M858.0 376.9h0M869.6 376.9h0M881.1 377.0h0M892.6 377.0h0M904.2 377.1h0M915.7 377.1h0M927.2 377.2h0M938.8 377.2h0M794.6 386.6h0M817.6 386.7h0M829.2 386.7h0M840.7 386.8h0M852.2 386.8h0M863.8 386.9h0M875.3 386.9h0M886.8 387.0h0M898.4 387.0h0M909.9 387.1h0M921.4 387.1h0M956.0 387.3h0M800.3 396.6h0M823.4 396.7h0M834.9 396.7h0M846.4 396.8h0M858.0 396.8h0M892.6 397.0h0M904.1 397.0h0M915.6 397.1h0M927.2 397.1h0M938.7 397.2h0M961.8 397.3h0M356.2 404.7h0M806.0 406.6h0M817.6 406.6h0M829.1 406.7h0M840.6 406.7h0M852.2 406.8h0M863.7 406.8h0M875.2 406.9h0M886.8 406.9h0M909.8 407.0h0M921.4 407.1h0M932.9 407.1h0M944.4 407.2h0M967.5 407.3h0M811.7 416.6h0M823.3 416.6h0M834.8 416.7h0M869.4 416.8h0M915.5 417.0h0M961.7 417.2h0M973.2 417.3h0M805.9 426.6h0M817.5 426.6h0M829.0 426.6h0M840.5 426.7h0M852.1 426.7h0M863.6 426.8h0M350.3 434.6h0M811.7 436.6h0M823.2 436.6h0M834.7 436.7h0M915.5 437.0h0M817.4 446.6h0M828.9 446.6h0M898.1 446.9h0M921.2 447.0h0M932.7 447.0h0M338.7 454.5h0M823.1 456.6h0M834.6 456.6h0M926.9 457.0h0M938.4 457.0h0M332.9 464.5h0M817.3 466.5h0M828.8 466.6h0M840.4 466.6h0M886.5 466.8h0M921.1 466.9h0M932.6 467.0h0M811.5 476.5h0M823.0 476.5h0M834.6 476.6h0M880.7 476.8h0M892.2 476.8h0M915.3 476.9h0M805.7 486.4h0M817.2 486.5h0M828.8 486.5h0M874.9 486.7h0M898.0 486.8h0M909.5 486.9h0M811.4 496.4h0M822.9 496.5h0M834.5 496.5h0M880.6 496.7h0M903.7 496.8h0M805.6 506.4h0M817.1 506.4h0M828.7 506.5h0M840.2 506.5h0M851.7 506.6h0M874.8 506.7h0M909.4 506.8h0M799.8 516.3h0M811.3 516.4h0M880.5 516.7h0M915.1 516.8h0M782.5 526.2h0M805.5 526.3h0M886.3 526.7h0M920.9 526.8h0M776.6 536.2h0M788.2 536.2h0M811.2 536.3h0M724.7 546.0h0M793.9 546.2h0M805.4 546.3h0M920.8 546.8h0M776.6 556.1h0M788.1 556.2h0M799.6 556.2h0M811.2 556.3h0M926.5 556.8h0M938.0 556.8h0M782.3 566.1h0M793.8 566.2h0M805.4 566.2h0M874.6 566.5h0M943.8 566.8h0M788.0 576.1h0M799.5 576.2h0M811.1 576.2h0M880.3 576.5h0M891.8 576.6h0M949.5 576.8h0M793.7 586.2h0M805.3 586.2h0M816.8 586.2h0M874.5 586.5h0M909.1 586.6h0M943.7 586.8h0M787.9 596.1h0M799.5 596.2h0M811.0 596.2h0M822.5 596.2h0M880.2 596.5h0M949.4 596.8h0M805.2 606.2h0M816.7 606.2h0M828.3 606.3h0M839.8 606.3h0M920.5 606.6h0M955.1 606.8h0M799.4 616.1h0M810.9 616.2h0M822.4 616.2h0M834.0 616.3h0M880.1 616.4h0M891.6 616.5h0M903.2 616.5h0M926.2 616.6h0M805.1 626.1h0M816.6 626.2h0M828.2 626.2h0M839.7 626.3h0M885.8 626.4h0M920.4 626.6h0M787.8 636.0h0M799.3 636.1h0M810.8 636.1h0M822.4 636.2h0M833.9 636.2h0M949.2 636.7h0M770.4 645.9h0M782.0 646.0h0M793.5 646.0h0M816.6 646.1h0M920.4 646.5h0M931.9 646.6h0M943.4 646.6h0M268.7 653.8h0M764.6 655.9h0M776.2 655.9h0M937.6 656.6h0M949.1 656.6h0M758.8 665.8h0M770.3 665.9h0M793.4 666.0h0M908.7 666.5h0M931.8 666.6h0M268.6 673.8h0M764.5 675.8h0M776.1 675.9h0M845.3 676.2h0M856.8 676.2h0M902.9 676.4h0M770.3 685.8h0M781.8 685.9h0M862.5 686.2h0M897.1 686.4h0M268.5 693.7h0M764.5 695.8h0M776.0 695.8h0M787.5 695.9h0M793.2 705.9h0M268.5 713.7h0M799.0 715.9h0M810.5 715.9h0M902.8 716.3h0M972.0 716.6h0M781.6 725.8h0M804.7 725.9h0M816.2 725.9h0M862.4 726.1h0M695.1 735.4h0M798.9 735.8h0M822.0 735.9h0M833.5 736.0h0M971.9 736.6h0M274.1 743.6h0M804.6 745.8h0M839.2 746.0h0M850.7 746.0h0M862.3 746.1h0M954.5 746.5h0M966.1 746.5h0M977.6 746.6h0M279.8 753.6h0M764.2 755.7h0M810.3 755.8h0M844.9 756.0h0M879.5 756.1h0M948.7 756.4h0M781.5 765.7h0M793.0 765.8h0M850.7 766.0h0M885.3 766.1h0M896.8 766.2h0M279.7 773.6h0M787.2 775.7h0M798.7 775.8h0M810.3 775.8h0M856.4 776.0h0M867.9 776.0h0M879.4 776.1h0M914.0 776.2h0M925.6 776.3h0M285.5 783.6h0M804.4 785.8h0M827.5 785.9h0M839.0 785.9h0M862.1 786.0h0M873.6 786.0h0M291.2 793.6h0M810.2 795.8h0M879.4 796.0h0M285.4 803.6h0M804.4 805.7h0M827.4 805.8h0M873.6 806.0h0M885.1 806.1h0M291.1 813.6h0M798.6 815.7h0M867.7 816.0h0M902.3 816.1h0M296.8 823.6h0M792.7 825.6h0M804.3 825.7h0M908.1 826.1h0M810.0 835.7h0M867.7 835.9h0M879.2 836.0h0M890.7 836.0h0M902.3 836.1h0M913.8 836.1h0M308.3 843.6h0M873.4 845.9h0M884.9 846.0h0M896.5 846.0h0M908.0 846.1h0M919.5 846.1h0M302.5 853.5h0M821.5 855.7h0M890.6 856.0h0M925.2 856.1h0M296.7 863.5h0M308.2 863.5h0M319.7 863.6h0M919.4 866.1h0M931.0 866.1h0M290.9 873.4h0M325.5 873.6h0M925.2 876.1h0M936.7 876.1h0M884.8 885.9h0M930.9 886.1h0M233.1 893.1h0M936.6 896.1h0M994.3 896.3h0M227.3 903.1h0M930.8 906.0h0M942.3 906.1h0M988.5 906.3h0M1034.6 906.5h0M1069.2 906.6h0M233.0 913.1h0M994.2 916.3h0M1074.9 916.6h0M238.7 923.1h0M942.3 926.0h0M999.9 926.3h0M1057.6 926.5h0M1069.1 926.6h0M244.5 933.1h0M936.4 936.0h0M959.5 936.1h0M971.0 936.1h0M982.6 936.2h0M994.1 936.2h0M1005.6 936.3h0M1051.8 936.5h0M1063.3 936.5h0M1074.8 936.6h0M976.8 946.1h0M988.3 946.2h0M1011.4 946.3h0M1057.5 946.5h0M1080.6 946.6h0M982.5 956.1h0M1005.6 956.2h0M1063.2 956.5h0M261.6 963.1h0M988.2 966.1h0M1011.3 966.2h0M255.8 973.1h0M267.4 973.1h0M993.9 976.1h0M1005.5 976.2h0M1017.0 976.2h0M1063.1 976.4h0M261.6 983.1h0M918.9 985.8h0M999.7 986.1h0M1011.2 986.2h0M1057.3 986.4h0M267.3 993.1h0M1005.4 996.1h0M1016.9 996.2h0M1051.5 996.3h0M273.0 1003.1h0M918.9 1005.8h0M1011.1 1006.1h0M1022.7 1006.2h0M1034.2 1006.2h0M1068.8 1006.4h0M1016.8 1016.1h0M1039.9 1016.2h0M272.9 1023.0h0M953.4 1025.9h0M976.4 1025.9h0M999.5 1026.0h0M1022.6 1026.1h0M1034.1 1026.2h0M982.2 1036.0h0M993.7 1036.0h0M1005.2 1036.0h0M1028.3 1036.1h0M1062.9 1036.3h0M918.7 1045.7h0M999.4 1046.0h0M1011.0 1046.0h0M1034.0 1046.1h0M912.9 1055.6h0M982.1 1055.9h0M1005.1 1056.0h0M1016.7 1056.1h0M1028.2 1056.1h0M1039.7 1056.1h0M1022.4 1066.1h0M1033.9 1066.1h0M1057.0 1066.2h0M1091.6 1066.3h0M1103.1 1066.4h0M901.3 1075.5h0M912.8 1075.6h0M1016.6 1076.0h0M1028.1 1076.1h0M1039.7 1076.1h0M1051.2 1076.2h0M1062.7 1076.2h0M1108.9 1076.4h0M907.0 1085.5h0M1022.3 1086.0h0M1033.9 1086.1h0M1080.0 1086.2h0M1091.5 1086.3h0M1114.6 1086.4h0M924.3 1095.6h0M958.8 1095.7h0M1039.6 1096.1h0M1074.2 1096.2h0M1097.2 1096.3h0M1108.8 1096.3h0M1022.2 1106.0h0M1033.8 1106.0h0M1045.3 1106.1h0M1068.4 1106.2h0M1103.0 1106.3h0M1028.0 1116.0h0M1062.6 1116.1h0M1074.1 1116.2h0M1097.2 1116.3h0M941.4 1125.6h0M1056.8 1126.1h0M1068.3 1126.1h0M1079.8 1126.2h0M1050.9 1136.0h0M1062.5 1136.1h0M1022.1 1145.9h0M1033.6 1145.9h0M1045.1 1146.0h0M1068.2 1146.1h0M1091.3 1146.2h0M1027.8 1155.9h0M1039.3 1155.9h0M1097.0 1156.2h0M1108.5 1156.2h0M1033.5 1165.9h0M1091.2 1166.1h0M1102.7 1166.2h0M1062.3 1176.0h0M1085.4 1176.1h0M1096.9 1176.1h0M1056.5 1185.9h0M1091.1 1186.1h0M1102.6 1186.1h0M1050.7 1195.9h0M1073.8 1196.0h0M1085.3 1196.0h0M1096.8 1196.1h0M1108.4 1196.1h0M1044.9 1205.8h0M1056.4 1205.9h0M1091.0 1206.0h0M1102.6 1206.1h0M1027.5 1215.7h0M1050.6 1215.8h0M1062.1 1215.9h0M1073.7 1215.9h0M1085.2 1216.0h0M1096.7 1216.0h0M652.7 1224.2h0M1021.7 1225.7h0M1033.3 1225.7h0M1044.8 1225.8h0M1067.9 1225.9h0M1079.4 1225.9h0M1090.9 1226.0h0M1015.9 1235.7h0M1027.5 1235.7h0M1039.0 1235.7h0M1050.5 1235.8h0M1062.1 1235.8h0M1073.6 1235.9h0M1085.1 1235.9h0M594.9 1243.9h0M606.5 1243.9h0M744.9 1244.5h0M1021.7 1245.7h0M1033.2 1245.7h0M1044.7 1245.8h0M1067.8 1245.8h0M1079.3 1245.9h0M1015.8 1255.6h0M1027.4 1255.7h0M1038.9 1255.7h0M1050.4 1255.8h0M1021.6 1265.6h0M1033.1 1265.7h0M1056.2 1265.8h0M1090.8 1265.9h0M1102.3 1265.9h0M1027.3 1275.6h0M1038.8 1275.7h0M1085.0 1275.9h0M1033.0 1285.6h0M1044.6 1285.7h0M1079.2 1285.8h0M1090.7 1285.9h0M1102.2 1285.9h0M958.0 1295.3h0M1096.4 1295.9h0M1107.9 1295.9h0M963.7 1305.3h0M957.9 1315.2h0M1096.3 1315.8h0M963.7 1325.2h0M975.2 1325.3h0M986.7 1325.3h0M998.3 1325.4h0M1009.8 1325.4h0M1032.9 1325.5h0M1067.5 1325.7h0"/>
<path fill="none" stroke="#ff9896" stroke-width="9.54" stroke-linecap="round" d="M547.4 196.0h0M518.5 205.8h0M541.6 205.9h0M553.1 206.0h0M547.3 215.9h0M558.9 216.0h0M541.5 225.9h0M553.0 225.9h0M351.2 235.1h0M489.6 235.7h0M460.7 245.5h0M483.8 245.6h0M495.3 245.7h0M506.8 245.7h0M541.4 245.8h0M564.5 245.9h0M558.7 255.9h0M495.2 265.6h0M564.4 265.9h0M489.4 275.6h0M500.9 275.6h0M512.5 275.7h0M472.1 285.5h0M495.1 285.6h0M506.7 285.6h0M431.7 295.3h0M443.2 295.3h0M454.7 295.4h0M466.3 295.4h0M477.8 295.5h0M512.4 295.6h0M437.4 305.3h0M448.9 305.3h0M460.5 305.4h0M472.0 305.4h0M483.5 305.5h0M495.0 305.5h0M506.6 305.6h0M518.1 305.6h0M466.2 315.4h0M477.7 315.4h0M489.2 315.5h0M408.4 335.1h0M512.2 335.5h0M523.8 335.6h0M402.6 345.0h0M414.2 345.1h0M425.7 345.1h0M437.2 345.2h0M506.4 345.5h0M517.9 345.5h0M431.4 355.1h0M500.6 355.4h0M512.1 355.5h0M414.1 365.1h0M425.6 365.1h0M465.9 375.2h0M477.5 375.3h0M500.5 375.4h0M512.1 375.4h0M460.1 385.2h0M471.7 385.2h0M494.7 385.3h0M506.2 385.4h0M517.8 385.4h0M540.8 385.5h0M465.8 395.2h0M488.9 395.3h0M500.4 395.3h0M471.6 405.2h0M483.1 405.3h0M494.6 405.3h0M517.7 405.4h0M529.2 405.4h0M540.8 405.5h0M552.3 405.5h0M431.2 415.0h0M442.7 415.1h0M454.2 415.1h0M488.8 415.3h0M523.4 415.4h0M535.0 415.4h0M546.5 415.5h0M425.4 425.0h0M436.9 425.0h0M448.4 425.1h0M460.0 425.1h0M506.1 425.3h0M517.6 425.4h0M529.1 425.4h0M540.7 425.4h0M552.2 425.5h0M408.0 434.9h0M442.6 435.0h0M454.1 435.1h0M523.3 435.4h0M436.8 445.0h0M448.3 445.0h0M494.5 445.2h0M506.0 445.3h0M529.1 445.4h0M540.6 445.4h0M407.9 454.8h0M442.5 455.0h0M511.7 455.3h0M523.3 455.3h0M402.1 464.8h0M413.7 464.8h0M425.2 464.9h0M471.3 465.1h0M482.9 465.1h0M494.4 465.2h0M540.5 465.4h0M552.0 465.4h0M563.6 465.5h0M396.3 474.7h0M465.5 475.0h0M477.0 475.1h0M488.6 475.1h0M500.1 475.2h0M557.8 475.4h0M569.3 475.5h0M448.2 484.9h0M459.7 485.0h0M482.8 485.1h0M494.3 485.1h0M505.8 485.2h0M517.4 485.2h0M528.9 485.3h0M586.6 485.5h0M598.1 485.6h0M465.4 495.0h0M477.0 495.0h0M488.5 495.1h0M500.0 495.1h0M511.6 495.2h0M523.1 495.2h0M534.6 495.3h0M413.5 504.7h0M425.0 504.8h0M494.2 505.1h0M505.8 505.1h0M528.8 505.2h0M488.4 515.0h0M499.9 515.1h0M448.0 524.8h0M471.1 524.9h0M482.6 525.0h0M505.7 525.1h0M465.3 534.9h0M476.8 534.9h0M499.9 535.0h0M424.9 544.7h0M436.4 544.8h0M482.5 544.9h0M430.6 554.7h0M442.1 554.8h0M453.6 554.8h0M465.2 554.8h0M476.7 554.9h0M436.3 564.7h0M447.8 564.8h0M459.4 564.8h0M470.9 564.9h0M453.6 574.8h0M465.1 574.8h0M476.6 574.9h0M470.8 584.8h0M482.4 584.9h0M540.0 585.1h0M413.1 604.5h0M424.6 604.6h0M447.7 604.7h0M407.3 614.5h0M418.8 614.5h0M430.3 614.6h0M441.9 614.6h0M453.4 614.7h0M413.0 624.5h0M424.5 624.5h0M436.1 624.6h0M447.6 624.6h0M511.0 634.9h0M482.0 664.7h0M430.1 674.4h0M441.6 674.5h0M453.1 674.5h0M464.7 674.6h0M580.0 675.1h0M591.5 675.1h0M412.7 684.3h0M424.3 684.4h0M435.8 684.4h0M585.7 685.1h0M487.6 714.6h0M424.1 724.3h0M418.3 734.3h0M395.1 774.1h0M418.1 774.2h0M389.3 784.0h0M400.8 784.1h0M412.3 784.1h0M400.7 804.0h0M412.2 804.1h0M418.0 814.1h0M452.6 814.2h0M423.7 824.1h0M446.8 824.2h0M458.3 824.2h0M452.5 834.2h0M464.0 834.2h0M423.6 844.0h0M463.9 854.2h0M458.1 864.1h0M458.0 884.1h0M642.6 884.9h0M452.2 894.0h0M636.8 894.8h0M648.3 894.9h0M642.5 904.8h0M654.0 904.9h0M417.6 913.9h0M613.6 914.7h0M446.3 924.0h0M457.9 924.0h0M469.4 924.1h0M573.2 924.5h0M630.9 924.7h0M348.3 933.5h0M359.8 933.6h0M463.6 934.0h0M475.1 934.1h0M486.7 934.1h0M567.4 934.4h0M578.9 934.5h0M590.5 934.5h0M602.0 934.6h0M365.5 943.6h0M423.2 943.8h0M446.3 943.9h0M469.3 944.0h0M480.9 944.1h0M492.4 944.1h0M561.6 944.4h0M573.1 944.4h0M584.7 944.5h0M596.2 944.5h0M619.3 944.6h0M630.8 944.7h0M348.2 953.5h0M371.3 953.6h0M452.0 953.9h0M463.5 954.0h0M475.0 954.0h0M555.8 954.3h0M567.3 954.4h0M590.4 954.5h0M601.9 954.5h0M307.8 963.3h0M353.9 963.5h0M388.5 963.6h0M411.6 963.7h0M423.1 963.8h0M446.2 963.9h0M457.7 963.9h0M469.2 964.0h0M550.0 964.3h0M561.5 964.4h0M348.1 973.4h0M382.7 973.6h0M405.8 973.7h0M428.8 973.8h0M463.4 973.9h0M486.5 974.0h0M555.7 974.3h0M567.2 974.4h0M307.7 983.3h0M365.4 983.5h0M388.4 983.6h0M400.0 983.6h0M423.0 983.7h0M457.6 983.9h0M492.2 984.0h0M561.4 984.3h0M573.0 984.4h0M371.1 993.5h0M382.6 993.5h0M394.2 993.6h0M417.2 993.7h0M451.8 993.8h0M463.3 993.9h0M486.4 994.0h0M567.1 994.3h0M578.7 994.4h0M307.6 1003.2h0M319.1 1003.3h0M342.2 1003.4h0M376.8 1003.5h0M411.4 1003.6h0M422.9 1003.7h0M503.7 1004.0h0M515.2 1004.1h0M584.4 1004.4h0M595.9 1004.4h0M324.9 1013.3h0M336.4 1013.3h0M347.9 1013.4h0M371.0 1013.4h0M382.5 1013.5h0M417.1 1013.6h0M440.2 1013.7h0M451.7 1013.8h0M497.9 1014.0h0M509.4 1014.0h0M590.1 1014.4h0M601.7 1014.4h0M284.5 1023.1h0M342.1 1023.3h0M376.7 1023.5h0M388.3 1023.5h0M434.4 1023.7h0M445.9 1023.7h0M492.1 1023.9h0M278.7 1033.0h0M290.2 1033.1h0M301.7 1033.1h0M347.9 1033.3h0M394.0 1033.5h0M428.6 1033.6h0M497.8 1033.9h0M284.4 1043.0h0M295.9 1043.1h0M307.4 1043.1h0M342.0 1043.3h0M353.6 1043.3h0M365.1 1043.4h0M376.6 1043.4h0M480.4 1043.8h0M492.0 1043.9h0M503.5 1043.9h0M301.6 1053.1h0M313.2 1053.1h0M324.7 1053.2h0M336.2 1053.2h0M347.8 1053.3h0M359.3 1053.3h0M370.8 1053.4h0M382.4 1053.4h0M428.5 1053.6h0M463.1 1053.7h0M486.2 1053.8h0M497.7 1053.9h0M295.8 1063.0h0M307.4 1063.1h0M318.9 1063.1h0M330.4 1063.2h0M342.0 1063.2h0M365.0 1063.3h0M422.7 1063.6h0M434.2 1063.6h0M301.6 1073.0h0M313.1 1073.1h0M324.6 1073.1h0M336.2 1073.2h0M347.7 1073.2h0M359.2 1073.3h0M370.8 1073.3h0M463.0 1073.7h0M509.1 1073.9h0M543.7 1074.0h0M307.3 1083.0h0M318.8 1083.1h0M330.3 1083.1h0M341.9 1083.2h0M353.4 1083.2h0M364.9 1083.3h0M376.5 1083.3h0M388.0 1083.4h0M514.9 1083.9h0M526.4 1083.9h0M537.9 1084.0h0M549.5 1084.0h0M324.5 1093.1h0M336.1 1093.1h0M347.6 1093.2h0M359.1 1093.2h0M382.2 1093.3h0M416.8 1093.5h0M462.9 1093.7h0M486.0 1093.8h0M497.5 1093.8h0M509.1 1093.8h0M520.6 1093.9h0M555.2 1094.0h0M330.3 1103.1h0M341.8 1103.1h0M353.3 1103.2h0M422.5 1103.5h0M434.1 1103.5h0M537.9 1103.9h0M549.4 1104.0h0M1114.5 1106.3h0M1126.0 1106.4h0M336.0 1113.1h0M347.5 1113.1h0M359.1 1113.2h0M370.6 1113.2h0M382.1 1113.3h0M405.2 1113.4h0M416.7 1113.4h0M428.3 1113.5h0M451.3 1113.6h0M485.9 1113.7h0M341.7 1123.1h0M353.2 1123.1h0M364.8 1123.2h0M376.3 1123.2h0M399.4 1123.3h0M410.9 1123.4h0M434.0 1123.5h0M445.5 1123.5h0M491.6 1123.7h0M503.2 1123.8h0M526.2 1123.9h0M1114.4 1126.3h0M335.9 1133.0h0M347.4 1133.1h0M359.0 1133.1h0M370.5 1133.2h0M393.6 1133.3h0M405.1 1133.3h0M416.6 1133.4h0M474.3 1133.6h0M485.8 1133.7h0M497.4 1133.7h0M508.9 1133.8h0M1120.1 1136.3h0M353.2 1143.1h0M399.3 1143.3h0M410.8 1143.3h0M445.4 1143.5h0M382.0 1153.2h0M393.5 1153.2h0M405.0 1153.3h0M428.1 1153.4h0M439.6 1153.4h0M543.4 1153.9h0M364.6 1163.1h0M376.1 1163.1h0M433.8 1163.4h0M445.3 1163.4h0M537.6 1163.8h0M462.6 1173.5h0M520.3 1173.7h0M531.8 1173.8h0M543.3 1173.8h0M456.8 1183.4h0M537.5 1183.8h0M549.1 1183.8h0M462.5 1193.4h0M520.2 1193.7h0M543.2 1193.8h0M549.0 1203.8h0M560.5 1203.8h0M623.8 1234.0h0"/>
<path fill="none" stroke="#9edae5" stroke-width="9.54" stroke-linecap="round" d="M357.1 205.2h0M368.6 205.2h0M351.3 215.1h0M362.8 215.2h0M374.3 215.2h0M368.5 225.2h0M380.1 225.2h0M362.7 235.1h0M374.2 235.2h0M385.8 235.2h0M345.4 245.0h0M356.9 245.1h0M368.4 245.1h0M380.0 245.2h0M351.1 255.0h0M362.6 255.1h0M374.2 255.1h0M345.3 265.0h0M356.8 265.0h0M368.4 265.1h0M339.5 274.9h0M351.0 275.0h0M362.5 275.0h0M374.1 275.1h0M345.2 284.9h0M356.7 285.0h0M368.3 285.0h0M339.4 294.9h0M350.9 294.9h0M362.5 295.0h0M333.6 304.8h0M345.1 304.9h0M356.7 304.9h0M339.3 314.9h0M350.8 314.9h0M298.2 504.3h0M309.7 504.3h0M292.4 514.2h0M303.9 514.3h0M286.5 524.2h0M298.1 524.2h0M280.7 534.1h0M292.3 534.2h0M274.9 544.1h0M286.5 544.1h0M298.0 544.2h0M269.1 554.0h0M280.7 554.1h0M292.2 554.1h0M274.8 564.0h0M286.4 564.1h0M297.9 564.1h0M269.0 574.0h0M280.6 574.0h0M292.1 574.1h0M263.2 583.9h0M274.8 584.0h0M286.3 584.0h0M297.8 584.1h0M269.0 593.9h0M280.5 594.0h0M292.0 594.0h0M274.7 603.9h0M286.2 604.0h0M297.7 604.0h0M268.9 613.9h0M280.4 613.9h0M291.9 614.0h0M603.3 615.3h0M263.1 623.9h0M274.6 623.9h0M286.1 623.9h0M297.7 624.0h0M609.0 625.3h0M268.8 633.9h0M280.3 633.9h0M291.9 634.0h0M303.4 634.0h0M274.5 643.9h0M286.0 643.9h0M297.6 644.0h0M280.2 653.9h0M291.8 653.9h0M303.3 654.0h0M274.4 663.8h0M286.0 663.9h0M297.5 663.9h0M309.0 664.0h0M280.2 673.8h0M291.7 673.9h0M303.2 673.9h0M274.3 683.8h0M285.9 683.8h0M297.4 683.9h0M308.9 683.9h0M280.1 693.8h0M291.6 693.8h0M303.1 693.9h0M274.3 703.7h0M285.8 703.8h0M297.3 703.8h0M308.9 703.9h0M280.0 713.7h0M291.5 713.8h0M303.1 713.8h0M314.6 713.9h0M274.2 723.7h0M285.7 723.7h0M297.2 723.8h0M308.8 723.8h0M320.3 723.9h0M291.4 733.7h0M303.0 733.8h0M314.5 733.8h0M285.6 743.7h0M297.2 743.7h0M291.4 753.7h0M302.9 753.7h0M297.1 763.7h0M308.6 763.7h0M320.1 763.8h0M302.8 773.7h0M314.3 773.7h0M297.0 783.6h0M308.5 783.7h0M320.1 783.7h0M302.7 793.6h0M314.3 793.7h0M325.8 793.7h0M296.9 803.6h0M308.4 803.6h0M320.0 803.7h0M302.6 813.6h0M314.2 813.7h0M325.7 813.7h0M308.4 823.6h0M319.9 823.7h0M302.6 833.6h0M314.1 833.6h0M325.6 833.7h0M319.8 843.6h0M331.3 843.7h0M781.1 845.5h0M314.0 853.6h0M325.5 853.6h0M337.1 853.7h0M786.9 855.5h0M342.8 863.7h0M769.5 865.4h0M302.4 873.5h0M348.5 873.7h0M244.6 893.2h0M244.6 913.1h0M970.7 1015.9h0"/>
<path fill="none" stroke="#17becf" stroke-width="9.54" stroke-linecap="round" d="M720.3 216.7h0M731.8 216.7h0M714.5 226.6h0M726.0 226.7h0M737.6 226.7h0M760.6 226.8h0M708.7 236.6h0M720.2 236.6h0M691.4 246.5h0M702.9 246.5h0M714.4 246.6h0M737.5 246.7h0M662.5 256.3h0M697.1 256.5h0M720.1 256.6h0M777.8 256.8h0M645.1 266.2h0M656.7 266.3h0M668.2 266.3h0M679.7 266.4h0M702.8 266.5h0M650.9 276.2h0M673.9 276.3h0M645.1 286.2h0M668.1 286.3h0M679.7 286.3h0M639.3 296.1h0M650.8 296.2h0M662.3 296.2h0M673.9 296.3h0M685.4 296.3h0M610.4 306.0h0M633.4 306.1h0M645.0 306.1h0M656.5 306.2h0M668.0 306.2h0M679.6 306.3h0M691.1 306.3h0M702.6 306.4h0M627.6 316.1h0M650.7 316.1h0M662.2 316.2h0M685.3 316.3h0M696.8 316.3h0M633.4 326.1h0M644.9 326.1h0M656.4 326.1h0M668.0 326.2h0M679.5 326.2h0M691.0 326.3h0M702.6 326.3h0M616.0 336.0h0M639.1 336.1h0M650.6 336.1h0M662.2 336.2h0M673.7 336.2h0M685.2 336.2h0M696.8 336.3h0M621.7 346.0h0M633.3 346.0h0M656.3 346.1h0M667.9 346.2h0M679.4 346.2h0M690.9 346.2h0M702.5 346.3h0M714.0 346.3h0M725.5 346.4h0M737.1 346.4h0M615.9 355.9h0M639.0 356.0h0M650.5 356.1h0M662.1 356.1h0M673.6 356.2h0M685.1 356.2h0M696.7 356.3h0M708.2 356.3h0M719.7 356.3h0M731.3 356.4h0M742.8 356.4h0M656.3 366.1h0M667.8 366.1h0M679.3 366.2h0M702.4 366.3h0M713.9 366.3h0M725.5 366.3h0M737.0 366.4h0M748.5 366.4h0M760.1 366.5h0M662.0 376.1h0M673.5 376.1h0M685.1 376.2h0M696.6 376.2h0M708.1 376.3h0M719.7 376.3h0M731.2 376.4h0M742.7 376.4h0M754.2 376.4h0M621.6 385.9h0M667.7 386.1h0M679.2 386.1h0M690.8 386.2h0M702.3 386.2h0M725.4 386.3h0M736.9 386.4h0M748.4 386.4h0M673.4 396.1h0M685.0 396.1h0M696.5 396.2h0M719.6 396.3h0M731.1 396.3h0M742.6 396.4h0M656.1 406.0h0M679.2 406.1h0M690.7 406.1h0M702.2 406.2h0M713.8 406.2h0M725.3 406.3h0M736.8 406.3h0M673.4 416.0h0M684.9 416.1h0M696.4 416.1h0M708.0 416.2h0M719.5 416.2h0M731.0 416.3h0M742.5 416.3h0M754.1 416.4h0M690.6 426.1h0M702.1 426.1h0M713.7 426.2h0M725.2 426.2h0M736.7 426.3h0M782.9 426.5h0M696.3 436.1h0M707.9 436.1h0M719.4 436.2h0M730.9 436.2h0M754.0 436.3h0M621.3 445.7h0M702.1 446.1h0M713.6 446.1h0M725.1 446.2h0M736.7 446.2h0M748.2 446.3h0M759.7 446.3h0M627.1 455.7h0M707.8 456.1h0M730.9 456.2h0M742.4 456.2h0M753.9 456.3h0M765.4 456.3h0M655.8 465.8h0M678.9 465.9h0M725.0 466.1h0M759.6 466.3h0M771.2 466.3h0M782.7 466.4h0M650.0 475.8h0M661.6 475.8h0M673.1 475.9h0M684.6 475.9h0M730.8 476.1h0M742.3 476.2h0M753.8 476.2h0M765.4 476.3h0M776.9 476.3h0M655.8 485.8h0M678.8 485.9h0M690.4 485.9h0M701.9 486.0h0M725.0 486.1h0M771.1 486.3h0M661.5 495.8h0M673.0 495.8h0M684.6 495.9h0M696.1 495.9h0M707.6 496.0h0M667.2 505.8h0M678.7 505.8h0M690.3 505.9h0M701.8 505.9h0M713.3 506.0h0M696.0 515.9h0M707.5 515.9h0M718.4 675.6h0M712.6 685.6h0M724.1 685.6h0M729.9 695.6h0M735.6 705.6h0M758.6 725.7h0M752.8 735.7h0M729.5 775.5h0M741.1 775.5h0M752.6 775.6h0M764.1 775.6h0M735.2 785.5h0M758.3 785.6h0M741.0 795.5h0M752.5 795.5h0M764.0 795.6h0M775.6 795.6h0M758.2 805.5h0M740.9 815.4h0M752.4 815.5h0M746.6 825.4h0"/>
<path fill="none" stroke="#bcbd22" stroke-width="9.54" stroke-linecap="round" d="M743.5 196.8h0M766.4 216.8h0M783.7 226.9h0M789.4 236.9h0M801.0 236.9h0M818.2 247.0h0M812.4 257.0h0M823.9 257.0h0M806.6 266.9h0M818.1 267.0h0M829.7 267.0h0M841.2 267.1h0M800.8 276.9h0M812.3 276.9h0M823.9 277.0h0M835.4 277.0h0M846.9 277.1h0M795.0 286.8h0M806.5 286.9h0M818.1 286.9h0M829.6 287.0h0M841.1 287.0h0M852.7 287.1h0M864.2 287.1h0M800.7 296.8h0M812.2 296.9h0M823.8 296.9h0M835.3 297.0h0M846.8 297.0h0M858.4 297.1h0M869.9 297.1h0M881.4 297.2h0M893.0 297.2h0M806.4 306.8h0M818.0 306.9h0M829.5 306.9h0M841.0 307.0h0M875.6 307.1h0M898.7 307.2h0M812.2 316.8h0M823.7 316.9h0M835.2 316.9h0M846.8 317.0h0M858.3 317.0h0M892.9 317.2h0M904.4 317.2h0M794.8 326.7h0M829.4 326.9h0M841.0 326.9h0M852.5 327.0h0M898.6 327.2h0M910.2 327.2h0M921.7 327.3h0M933.2 327.3h0M835.1 336.9h0M904.3 337.2h0M915.9 337.2h0M938.9 337.3h0M788.9 356.6h0M800.5 356.7h0M915.8 357.2h0M927.3 357.2h0M806.2 366.7h0M910.0 367.1h0M921.5 367.2h0M933.1 367.2h0M944.6 367.3h0M800.4 376.6h0M811.9 376.7h0M950.3 377.3h0M961.8 377.3h0M806.1 386.6h0M967.6 387.3h0M765.7 396.5h0M811.8 396.6h0M973.3 397.3h0M979.0 407.3h0M927.1 417.1h0M938.6 417.1h0M950.1 417.2h0M921.3 427.0h0M932.8 427.1h0M944.3 427.1h0M955.9 427.2h0M967.4 427.2h0M927.0 437.0h0M938.5 437.1h0M944.3 447.1h0M955.8 447.1h0M967.3 447.2h0M950.0 457.1h0M961.5 457.1h0M973.0 457.2h0M944.2 467.0h0M955.7 467.1h0M967.2 467.1h0M926.8 476.9h0M938.4 477.0h0M886.4 486.8h0M921.0 486.9h0M932.6 486.9h0M915.2 496.9h0M920.9 506.9h0M926.7 516.9h0M932.4 526.9h0M926.6 536.8h0M932.3 546.8h0M949.6 556.9h0M263.3 564.0h0M955.3 566.9h0M886.0 586.5h0M897.5 586.6h0M955.2 586.8h0M891.7 596.5h0M903.3 596.6h0M960.9 596.8h0M263.1 603.9h0M885.9 606.5h0M897.5 606.5h0M909.0 606.6h0M914.7 616.6h0M960.8 616.8h0M955.0 626.7h0M960.8 636.7h0M955.0 646.7h0M960.7 656.7h0M966.4 666.7h0M972.1 676.7h0M972.0 696.7h0M977.8 706.7h0M983.5 716.7h0M977.7 726.6h0M268.4 733.6h0M983.4 736.6h0M989.1 746.6h0M268.3 753.6h0M856.5 756.0h0M868.0 756.1h0M960.3 756.5h0M971.8 756.5h0M274.0 763.6h0M862.2 766.0h0M873.7 766.1h0M942.9 766.4h0M954.5 766.4h0M891.0 776.1h0M902.5 776.2h0M937.1 776.3h0M885.2 786.1h0M908.2 786.2h0M919.8 786.2h0M931.3 786.3h0M896.6 806.1h0M919.6 826.1h0M931.1 846.2h0M902.2 856.0h0M936.8 856.2h0M942.5 866.2h0M706.0 875.2h0M948.2 876.2h0M959.8 876.2h0M965.5 886.2h0M1000.1 886.4h0M1011.6 886.4h0M1023.2 886.4h0M971.2 896.2h0M982.7 896.3h0M1028.9 896.5h0M1040.4 896.5h0M1051.9 896.5h0M1063.5 896.6h0M1075.0 896.6h0M976.9 906.2h0M1080.7 906.6h0M1086.5 916.6h0M1080.7 926.6h0M1086.4 936.6h0M1074.8 956.5h0M999.8 966.2h0M1069.0 966.5h0M953.5 985.9h0M1068.9 986.4h0M913.1 995.8h0M924.7 995.8h0M947.7 995.9h0M1074.5 1016.4h0M964.9 1025.9h0M959.1 1035.9h0M970.6 1035.9h0M1074.4 1036.3h0M1097.5 1036.4h0M1109.0 1036.5h0M953.3 1045.8h0M964.8 1045.9h0M976.4 1045.9h0M1068.6 1046.3h0M1091.7 1046.4h0M1103.2 1046.4h0M1114.8 1046.5h0M947.5 1055.8h0M959.0 1055.8h0M970.5 1055.9h0M1062.8 1056.2h0M1085.9 1056.3h0M1097.4 1056.4h0M1108.9 1056.4h0M1120.5 1056.5h0M907.1 1065.6h0M941.7 1065.7h0M953.2 1065.8h0M964.7 1065.8h0M976.3 1065.9h0M1080.1 1066.3h0M1114.7 1066.4h0M935.9 1075.7h0M947.4 1075.7h0M958.9 1075.8h0M970.5 1075.8h0M1074.3 1076.2h0M1120.4 1076.4h0M930.1 1085.6h0M941.6 1085.7h0M953.1 1085.7h0M1056.9 1086.2h0M1068.5 1086.2h0M1103.1 1086.3h0M935.8 1095.6h0M947.3 1095.7h0M1028.0 1096.0h0M1062.6 1096.2h0M930.0 1105.6h0M941.5 1105.6h0M1056.8 1106.1h0M924.2 1115.5h0M935.7 1115.6h0M929.9 1125.5h0M1068.0 1186.0h0M1062.2 1195.9h0M1068.0 1205.9h0M1079.5 1206.0h0M1114.1 1206.1h0M1039.1 1215.8h0M1108.3 1216.1h0M1056.3 1225.8h0M1102.5 1226.0h0M1114.0 1226.1h0M1108.2 1236.0h0M1056.3 1245.8h0M1102.4 1246.0h0M1062.0 1255.8h0M1073.5 1255.8h0M1085.0 1255.9h0M1096.6 1255.9h0M1108.1 1256.0h0M1067.7 1265.8h0M1079.2 1265.9h0M1108.0 1275.9h0M1113.8 1286.0h0M1113.7 1305.9h0M1107.9 1315.9h0M1044.4 1325.6h0M1079.0 1325.7h0M1090.5 1325.8h0"/>
<path fill="none" stroke="#f7b6d2" stroke-width="9.54" stroke-linecap="round" d="M674.0 256.4h0M610.5 266.1h0M616.3 276.1h0M627.8 276.1h0M639.3 276.2h0M662.4 276.3h0M610.5 286.0h0M622.0 286.1h0M633.5 286.1h0M616.2 296.0h0M627.7 296.1h0M621.9 306.0h0M616.1 316.0h0M621.8 326.0h0M627.6 336.0h0M627.5 356.0h0M621.7 365.9h0M633.2 366.0h0M627.4 375.9h0M627.3 395.9h0M638.8 395.9h0M633.0 405.9h0M644.6 405.9h0M627.2 415.8h0M638.8 415.9h0M650.3 415.9h0M632.9 425.8h0M644.5 425.9h0M627.1 435.8h0M638.7 435.8h0M650.2 435.9h0M632.9 445.8h0M644.4 445.8h0M655.9 445.9h0M638.6 455.8h0M650.1 455.8h0M661.7 455.9h0M644.3 465.8h0M667.4 465.9h0M644.2 485.7h0M650.0 495.7h0M644.1 505.7h0M655.7 505.8h0M638.3 515.7h0M649.9 515.7h0M661.4 515.8h0M672.9 515.8h0M655.6 525.7h0M667.1 525.8h0M678.7 525.8h0M690.2 525.9h0M701.7 525.9h0M713.3 525.9h0M580.6 535.4h0M592.1 535.4h0M661.3 535.7h0M672.9 535.8h0M684.4 535.8h0M695.9 535.9h0M707.5 535.9h0M586.3 545.4h0M597.8 545.4h0M609.4 545.5h0M620.9 545.5h0M644.0 545.6h0M655.5 545.7h0M667.0 545.7h0M678.6 545.8h0M690.1 545.8h0M701.6 545.9h0M713.2 545.9h0M580.5 555.3h0M592.0 555.4h0M603.6 555.4h0M615.1 555.5h0M626.6 555.5h0M638.2 555.6h0M649.7 555.6h0M661.2 555.7h0M672.8 555.7h0M684.3 555.8h0M695.8 555.8h0M574.7 565.3h0M586.2 565.3h0M597.8 565.4h0M609.3 565.4h0M620.8 565.5h0M632.4 565.5h0M643.9 565.6h0M655.4 565.6h0M667.0 565.7h0M678.5 565.7h0M690.0 565.8h0M701.6 565.8h0M568.9 575.2h0M580.4 575.3h0M592.0 575.3h0M603.5 575.4h0M615.0 575.4h0M626.6 575.5h0M638.1 575.5h0M649.6 575.6h0M661.2 575.6h0M672.7 575.7h0M684.2 575.7h0M695.8 575.8h0M574.6 585.2h0M586.1 585.3h0M597.7 585.3h0M609.2 585.4h0M620.7 585.4h0M632.3 585.5h0M643.8 585.5h0M655.3 585.6h0M666.9 585.6h0M678.4 585.7h0M689.9 585.7h0M580.3 595.2h0M591.9 595.3h0M603.4 595.3h0M614.9 595.4h0M638.0 595.5h0M649.5 595.5h0M661.1 595.6h0M672.6 595.6h0M684.1 595.7h0M695.7 595.7h0M586.1 605.2h0M597.6 605.3h0M609.1 605.3h0M620.7 605.4h0M632.2 605.4h0M643.7 605.5h0M655.3 605.5h0M666.8 605.6h0M678.3 605.6h0M689.9 605.7h0M701.4 605.7h0M591.8 615.2h0M614.9 615.3h0M626.4 615.4h0M637.9 615.4h0M649.5 615.5h0M661.0 615.5h0M672.5 615.6h0M684.1 615.6h0M695.6 615.7h0M707.1 615.7h0M586.0 625.2h0M597.5 625.2h0M620.6 625.3h0M632.1 625.4h0M643.6 625.4h0M655.2 625.5h0M666.7 625.5h0M678.2 625.6h0M689.8 625.6h0M701.3 625.7h0M580.2 635.2h0M591.7 635.2h0M603.2 635.2h0M614.8 635.3h0M626.3 635.3h0M637.8 635.4h0M649.4 635.4h0M660.9 635.5h0M672.4 635.5h0M684.0 635.6h0M695.5 635.6h0M707.0 635.7h0M585.9 645.2h0M597.4 645.2h0M609.0 645.3h0M620.5 645.3h0M632.0 645.3h0M643.6 645.4h0M655.1 645.4h0M666.6 645.5h0M678.2 645.5h0M689.7 645.6h0M701.2 645.6h0M712.8 645.7h0M591.6 655.2h0M603.2 655.2h0M614.7 655.3h0M626.2 655.3h0M637.8 655.3h0M649.3 655.4h0M660.8 655.4h0M672.4 655.5h0M683.9 655.5h0M695.4 655.6h0M707.0 655.6h0M718.5 655.7h0M597.3 665.2h0M608.9 665.2h0M620.4 665.3h0M631.9 665.3h0M643.5 665.4h0M655.0 665.4h0M666.5 665.4h0M678.1 665.5h0M689.6 665.5h0M701.1 665.6h0M712.7 665.6h0M724.2 665.7h0M603.1 675.2h0M614.6 675.2h0M626.1 675.3h0M637.7 675.3h0M649.2 675.4h0M660.7 675.4h0M672.3 675.4h0M683.8 675.5h0M695.3 675.5h0M706.9 675.6h0M608.8 685.2h0M620.3 685.2h0M631.9 685.3h0M643.4 685.3h0M654.9 685.4h0M666.5 685.4h0M678.0 685.5h0M689.5 685.5h0M701.1 685.5h0M735.7 685.7h0M614.5 695.2h0M626.1 695.2h0M637.6 695.3h0M649.1 695.3h0M660.7 695.4h0M672.2 695.4h0M683.7 695.5h0M695.3 695.5h0M706.8 695.5h0M718.3 695.6h0M608.7 705.1h0M620.2 705.2h0M631.8 705.2h0M643.3 705.3h0M654.8 705.3h0M666.4 705.4h0M677.9 705.4h0M689.4 705.5h0M701.0 705.5h0M712.5 705.6h0M568.3 714.9h0M579.8 715.0h0M591.4 715.0h0M602.9 715.1h0M614.4 715.1h0M626.0 715.2h0M637.5 715.2h0M649.0 715.3h0M660.6 715.3h0M672.1 715.4h0M683.6 715.4h0M695.2 715.5h0M551.0 724.8h0M562.5 724.9h0M574.0 724.9h0M585.6 725.0h0M597.1 725.0h0M608.6 725.1h0M620.2 725.1h0M631.7 725.2h0M643.2 725.2h0M654.8 725.3h0M666.3 725.3h0M677.8 725.4h0M689.4 725.4h0M700.9 725.5h0M712.4 725.5h0M441.4 734.4h0M556.7 734.8h0M568.2 734.9h0M579.8 734.9h0M591.3 735.0h0M602.8 735.0h0M614.4 735.1h0M625.9 735.1h0M637.4 735.2h0M649.0 735.2h0M660.5 735.3h0M672.0 735.3h0M683.6 735.4h0M435.6 744.3h0M447.1 744.4h0M458.6 744.4h0M550.9 744.8h0M562.4 744.8h0M574.0 744.9h0M585.5 744.9h0M597.0 745.0h0M608.5 745.0h0M643.1 745.2h0M654.7 745.2h0M666.2 745.3h0M677.7 745.3h0M689.3 745.4h0M429.7 754.3h0M441.3 754.3h0M452.8 754.4h0M464.3 754.4h0M545.1 754.7h0M556.6 754.8h0M568.1 754.8h0M579.7 754.9h0M591.2 754.9h0M602.7 755.0h0M648.9 755.2h0M660.4 755.2h0M671.9 755.3h0M683.5 755.3h0M447.0 764.3h0M562.3 764.8h0M573.9 764.8h0M585.4 764.9h0M596.9 764.9h0M654.6 765.2h0M666.1 765.2h0M677.7 765.3h0M689.2 765.3h0M700.7 765.4h0M452.7 774.3h0M568.1 774.8h0M579.6 774.8h0M660.3 775.2h0M671.9 775.2h0M683.4 775.3h0M694.9 775.3h0M718.0 775.4h0M643.0 785.1h0M666.0 785.2h0M677.6 785.2h0M689.1 785.3h0M700.6 785.3h0M671.8 795.2h0M683.3 795.2h0M694.8 795.3h0M706.4 795.3h0M717.9 795.4h0M677.5 805.2h0M689.0 805.2h0M700.6 805.3h0M712.1 805.3h0M706.3 815.3h0M717.8 815.3h0M723.5 825.3h0M308.1 883.5h0M1114.3 1166.2h0M641.2 1224.1h0M571.9 1243.8h0"/>
<path fill="none" stroke="#c7c7c7" stroke-width="9.54" stroke-linecap="round" d="M639.2 316.1h0M690.9 366.2h0M713.8 386.3h0M708.0 396.2h0M615.7 415.8h0M609.9 425.7h0M621.4 425.8h0M615.6 435.7h0M563.2 545.3h0M574.8 545.3h0M569.0 555.3h0M517.0 565.0h0M557.4 575.2h0M563.1 585.2h0M568.8 595.2h0M574.4 625.2h0M568.6 635.1h0M562.8 645.1h0M574.4 645.1h0M568.6 655.1h0M580.1 655.1h0M562.8 665.0h0M574.3 665.1h0M545.4 674.9h0M539.6 684.9h0M533.8 694.8h0M545.3 694.9h0M539.5 704.8h0M533.7 714.8h0M545.2 714.8h0M556.8 714.9h0M476.0 734.5h0M470.2 744.5h0M481.7 744.5h0M504.8 744.6h0M527.8 744.7h0M539.4 744.7h0M620.1 745.1h0M631.6 745.1h0M418.2 754.2h0M475.9 754.5h0M498.9 754.6h0M510.5 754.6h0M522.0 754.6h0M533.5 754.7h0M614.3 755.0h0M625.8 755.1h0M637.3 755.1h0M435.5 764.3h0M458.5 764.4h0M470.1 764.4h0M481.6 764.5h0M493.1 764.5h0M504.7 764.6h0M516.2 764.6h0M539.3 764.7h0M608.5 765.0h0M441.2 774.3h0M464.3 774.4h0M475.8 774.4h0M487.3 774.5h0M498.9 774.5h0M533.5 774.7h0M545.0 774.7h0M556.5 774.7h0M591.1 774.9h0M602.7 774.9h0M435.4 784.2h0M446.9 784.3h0M458.5 784.3h0M470.0 784.4h0M481.5 784.4h0M493.1 784.5h0M562.3 784.7h0M573.8 784.8h0M585.3 784.8h0M654.5 785.1h0M712.2 785.4h0M723.7 785.4h0M746.8 785.5h0M452.6 794.3h0M464.2 794.3h0M475.7 794.4h0M487.2 794.4h0M498.8 794.5h0M568.0 794.8h0M579.5 794.8h0M591.0 794.8h0M648.7 795.1h0M660.2 795.1h0M469.9 804.3h0M527.6 804.6h0M562.2 804.7h0M585.2 804.8h0M596.8 804.8h0M608.3 804.9h0M619.8 804.9h0M642.9 805.0h0M654.4 805.1h0M475.6 814.3h0M498.7 814.4h0M521.8 814.5h0M533.3 814.6h0M579.4 814.8h0M591.0 814.8h0M614.0 814.9h0M625.6 814.9h0M527.5 824.5h0M539.0 824.6h0M619.8 824.9h0M631.3 824.9h0M712.0 825.3h0M521.7 834.5h0M533.2 834.5h0M544.7 834.6h0M717.7 835.3h0M740.8 835.4h0M527.4 844.5h0M538.9 844.5h0M550.5 844.6h0M631.2 844.9h0M735.0 845.3h0M533.1 854.5h0M544.7 854.5h0M590.8 854.7h0M602.3 854.8h0M625.4 854.9h0M636.9 854.9h0M752.3 855.4h0M515.8 864.4h0M538.9 864.5h0M550.4 864.5h0M596.5 864.7h0M631.1 864.9h0M642.6 864.9h0M515.7 884.3h0M538.8 884.4h0M561.8 884.5h0M584.9 884.6h0M677.2 885.0h0M769.4 885.4h0M556.0 894.5h0M682.9 895.0h0M700.1 905.1h0M780.9 905.4h0M694.3 915.0h0M700.1 925.0h0M653.9 944.8h0M636.5 954.7h0M711.4 965.0h0M624.9 974.6h0M740.2 975.1h0M630.6 984.6h0M642.2 984.6h0M653.7 984.7h0M769.0 985.2h0M624.8 994.5h0M659.4 994.7h0M728.6 995.0h0M763.2 995.1h0M774.7 995.2h0M809.3 995.3h0M619.0 1004.5h0M792.0 1005.2h0M803.5 1005.3h0M624.7 1014.5h0M797.7 1015.2h0M618.9 1024.5h0M630.5 1024.5h0M642.0 1024.6h0M636.2 1034.5h0M641.9 1044.5h0M653.4 1044.6h0M636.1 1054.5h0M647.6 1054.5h0M659.2 1054.6h0M670.7 1054.6h0M763.0 1055.0h0M641.8 1064.5h0M653.4 1064.5h0M664.9 1064.6h0M676.4 1064.6h0M734.1 1064.9h0M745.6 1064.9h0M757.1 1064.9h0M636.0 1074.4h0M647.5 1074.5h0M659.1 1074.5h0M670.6 1074.6h0M739.8 1074.9h0M774.4 1075.0h0M618.7 1084.3h0M630.2 1084.4h0M641.7 1084.4h0M664.8 1084.5h0M676.3 1084.6h0M624.4 1094.3h0M635.9 1094.4h0M670.5 1094.5h0M572.5 1104.1h0M584.0 1104.1h0M607.1 1104.2h0M618.6 1104.3h0M630.1 1104.3h0M664.7 1104.5h0M589.7 1114.1h0M601.2 1114.2h0M612.8 1114.2h0M624.3 1114.3h0M635.8 1114.3h0M670.4 1114.5h0M607.0 1124.2h0M618.5 1124.2h0M630.0 1124.3h0M676.2 1124.5h0M999.1 1125.8h0M589.6 1134.1h0M601.2 1134.1h0M612.7 1134.2h0M624.2 1134.2h0M670.4 1134.4h0M681.9 1134.5h0M595.4 1144.1h0M606.9 1144.1h0M664.6 1144.4h0M676.1 1144.4h0M578.0 1154.0h0M589.5 1154.1h0M601.1 1154.1h0M612.6 1154.1h0M624.1 1154.2h0M658.7 1154.3h0M583.7 1164.0h0M595.3 1164.1h0M606.8 1164.1h0M629.9 1164.2h0M664.5 1164.3h0M1125.8 1166.3h0M589.5 1174.0h0M601.0 1174.1h0M797.1 1174.9h0M1120.0 1176.2h0M583.7 1184.0h0M1125.7 1186.2h0M635.5 1194.2h0M647.0 1194.2h0M773.9 1194.7h0M1119.9 1196.2h0M641.2 1204.2h0M652.8 1204.2h0M733.5 1204.5h0M871.9 1205.1h0M635.4 1214.1h0M739.2 1214.5h0M877.6 1215.1h0M572.0 1223.8h0M877.5 1235.1h0M837.1 1244.9h0M871.7 1245.0h0M831.3 1254.8h0M842.9 1254.9h0M877.5 1255.0h0M825.5 1264.8h0M837.0 1264.8h0M848.6 1264.9h0M860.1 1264.9h0M871.6 1265.0h0M819.7 1274.7h0M831.2 1274.8h0M842.8 1274.8h0M865.8 1274.9h0M877.4 1275.0h0M825.4 1284.7h0M877.3 1294.9h0M877.2 1314.9h0"/>
<path fill="none" stroke="#2ca02c" stroke-width="9.54" stroke-linecap="round" d="M881.3 337.1h0M933.1 347.3h0M933.0 387.2h0M944.5 387.2h0M869.5 396.9h0M950.2 397.2h0M898.3 407.0h0M955.9 407.2h0M846.3 416.7h0M857.9 416.8h0M880.9 416.9h0M892.5 416.9h0M904.0 417.0h0M875.1 426.8h0M886.7 426.9h0M898.2 426.9h0M909.7 427.0h0M846.3 436.7h0M857.8 436.7h0M869.3 436.8h0M880.9 436.8h0M892.4 436.9h0M903.9 436.9h0M840.5 446.7h0M852.0 446.7h0M863.5 446.7h0M875.1 446.8h0M886.6 446.8h0M909.7 446.9h0M800.0 456.5h0M846.2 456.7h0M857.7 456.7h0M869.2 456.8h0M880.8 456.8h0M892.3 456.8h0M903.8 456.9h0M915.4 456.9h0M851.9 466.7h0M863.4 466.7h0M875.0 466.8h0M898.0 466.8h0M909.6 466.9h0M857.6 476.7h0M869.2 476.7h0M903.8 476.9h0M840.3 486.6h0M851.8 486.6h0M863.4 486.7h0M846.0 496.6h0M857.5 496.6h0M869.1 496.7h0M892.1 496.8h0M863.3 506.6h0M886.3 506.7h0M897.9 506.8h0M822.9 516.4h0M834.4 516.5h0M845.9 516.5h0M857.5 516.6h0M869.0 516.6h0M892.1 516.7h0M903.6 516.8h0M794.0 526.3h0M817.1 526.4h0M828.6 526.4h0M840.1 526.5h0M851.7 526.5h0M863.2 526.6h0M874.7 526.6h0M897.8 526.7h0M909.3 526.8h0M799.7 536.3h0M822.8 536.4h0M834.3 536.4h0M845.8 536.5h0M857.4 536.5h0M868.9 536.6h0M880.4 536.6h0M892.0 536.7h0M903.5 536.7h0M915.0 536.8h0M782.4 546.2h0M817.0 546.3h0M828.5 546.4h0M840.0 546.4h0M851.6 546.5h0M863.1 546.5h0M874.6 546.6h0M886.2 546.6h0M897.7 546.7h0M909.2 546.7h0M822.7 556.3h0M834.2 556.4h0M845.8 556.4h0M857.3 556.5h0M868.8 556.5h0M880.4 556.6h0M891.9 556.6h0M903.4 556.7h0M915.0 556.7h0M816.9 566.3h0M828.4 566.3h0M840.0 566.4h0M851.5 566.4h0M863.0 566.5h0M886.1 566.6h0M897.6 566.6h0M909.2 566.7h0M920.7 566.7h0M932.2 566.8h0M822.6 576.3h0M834.1 576.3h0M845.7 576.4h0M857.2 576.4h0M868.7 576.5h0M903.3 576.6h0M914.9 576.7h0M926.4 576.7h0M937.9 576.8h0M828.3 586.3h0M839.9 586.3h0M851.4 586.4h0M862.9 586.4h0M920.6 586.7h0M932.1 586.7h0M834.1 596.3h0M845.6 596.3h0M857.1 596.4h0M868.7 596.4h0M914.8 596.6h0M926.3 596.7h0M937.9 596.7h0M851.3 606.3h0M862.9 606.4h0M874.4 606.4h0M932.1 606.7h0M943.6 606.7h0M845.5 616.3h0M857.0 616.3h0M868.6 616.4h0M937.8 616.7h0M949.3 616.7h0M851.2 626.3h0M862.8 626.4h0M874.3 626.4h0M897.4 626.5h0M908.9 626.5h0M932.0 626.6h0M943.5 626.7h0M845.4 636.3h0M857.0 636.3h0M868.5 636.4h0M880.0 636.4h0M891.6 636.4h0M903.1 636.5h0M914.6 636.5h0M926.2 636.6h0M937.7 636.6h0M805.0 646.1h0M828.1 646.2h0M839.6 646.2h0M851.2 646.3h0M862.7 646.3h0M874.2 646.4h0M885.8 646.4h0M897.3 646.5h0M908.8 646.5h0M787.7 656.0h0M799.2 656.0h0M810.7 656.1h0M822.3 656.1h0M833.8 656.2h0M845.3 656.2h0M856.9 656.3h0M868.4 656.3h0M879.9 656.4h0M891.5 656.4h0M903.0 656.5h0M914.5 656.5h0M926.1 656.5h0M781.9 665.9h0M804.9 666.0h0M816.5 666.1h0M828.0 666.1h0M839.5 666.2h0M851.1 666.2h0M862.6 666.3h0M874.1 666.3h0M885.7 666.4h0M897.2 666.4h0M920.3 666.5h0M943.3 666.6h0M954.9 666.6h0M787.6 675.9h0M799.1 676.0h0M810.7 676.0h0M822.2 676.1h0M833.7 676.1h0M868.3 676.3h0M879.9 676.3h0M891.4 676.4h0M914.5 676.5h0M926.0 676.5h0M937.5 676.6h0M949.1 676.6h0M960.6 676.6h0M793.3 685.9h0M804.9 686.0h0M816.4 686.0h0M827.9 686.1h0M839.5 686.1h0M851.0 686.2h0M874.1 686.3h0M885.6 686.3h0M908.7 686.4h0M920.2 686.5h0M931.7 686.5h0M943.3 686.6h0M954.8 686.6h0M966.3 686.7h0M799.1 695.9h0M810.6 696.0h0M822.1 696.0h0M833.6 696.1h0M845.2 696.1h0M856.7 696.2h0M868.2 696.2h0M879.8 696.3h0M891.3 696.3h0M902.8 696.4h0M914.4 696.4h0M925.9 696.5h0M937.4 696.5h0M949.0 696.6h0M960.5 696.6h0M781.7 705.8h0M804.8 705.9h0M816.3 706.0h0M827.8 706.0h0M839.4 706.1h0M850.9 706.1h0M862.4 706.2h0M874.0 706.2h0M885.5 706.3h0M897.0 706.3h0M908.6 706.4h0M920.1 706.4h0M931.6 706.5h0M943.2 706.5h0M954.7 706.6h0M966.2 706.6h0M706.7 715.5h0M775.9 715.8h0M787.4 715.8h0M822.0 716.0h0M833.6 716.0h0M845.1 716.1h0M856.6 716.1h0M868.2 716.2h0M879.7 716.2h0M891.2 716.3h0M914.3 716.4h0M925.8 716.4h0M937.4 716.5h0M948.9 716.5h0M960.4 716.6h0M793.2 725.8h0M827.8 726.0h0M839.3 726.0h0M850.8 726.1h0M873.9 726.2h0M885.4 726.2h0M897.0 726.3h0M908.5 726.3h0M920.0 726.4h0M931.6 726.4h0M943.1 726.5h0M954.6 726.5h0M966.2 726.6h0M279.9 733.7h0M787.4 735.8h0M810.4 735.9h0M845.0 736.0h0M856.5 736.1h0M868.1 736.1h0M879.6 736.2h0M891.1 736.2h0M902.7 736.3h0M914.2 736.3h0M925.7 736.4h0M937.3 736.4h0M948.8 736.5h0M960.3 736.5h0M781.5 745.8h0M793.1 745.8h0M816.1 745.9h0M827.7 745.9h0M873.8 746.1h0M885.3 746.2h0M896.9 746.2h0M908.4 746.3h0M919.9 746.3h0M931.5 746.4h0M943.0 746.4h0M787.3 755.8h0M798.8 755.8h0M821.9 755.9h0M833.4 755.9h0M891.1 756.2h0M902.6 756.2h0M914.1 756.3h0M925.7 756.3h0M937.2 756.4h0M285.5 763.6h0M804.5 765.8h0M816.1 765.9h0M827.6 765.9h0M839.1 765.9h0M908.3 766.2h0M919.9 766.3h0M931.4 766.3h0M291.3 773.6h0M821.8 775.9h0M833.3 775.9h0M844.8 775.9h0M792.9 785.7h0M816.0 785.8h0M850.6 786.0h0M787.1 795.7h0M798.6 795.7h0M821.7 795.8h0M833.2 795.9h0M844.8 795.9h0M856.3 796.0h0M867.8 796.0h0M792.8 805.7h0M815.9 805.8h0M839.0 805.9h0M850.5 805.9h0M862.0 806.0h0M810.1 815.7h0M821.6 815.8h0M833.2 815.8h0M844.7 815.9h0M856.2 815.9h0M879.3 816.0h0M890.8 816.1h0M815.8 825.7h0M827.3 825.8h0M850.4 825.9h0M861.9 825.9h0M873.5 826.0h0M885.0 826.0h0M896.5 826.1h0M821.5 835.7h0M833.1 835.8h0M844.6 835.8h0M856.1 835.9h0M815.7 845.7h0M827.3 845.7h0M838.8 845.8h0M850.3 845.8h0M861.9 845.9h0M833.0 855.7h0M844.5 855.8h0M856.1 855.8h0M867.6 855.9h0M879.1 855.9h0M913.7 856.1h0M331.3 863.6h0M850.2 865.8h0M861.8 865.8h0M873.3 865.9h0M884.8 865.9h0M896.4 866.0h0M907.9 866.0h0M337.0 873.6h0M879.0 875.9h0M890.6 875.9h0M902.1 876.0h0M913.6 876.0h0M896.3 885.9h0M907.8 886.0h0M919.4 886.0h0M942.4 886.1h0M954.0 886.2h0M902.0 895.9h0M913.5 896.0h0M925.1 896.0h0M948.1 896.1h0M959.7 896.2h0M1005.8 896.4h0M1017.3 896.4h0M896.2 905.9h0M907.7 905.9h0M919.3 906.0h0M953.9 906.1h0M965.4 906.2h0M1000.0 906.3h0M1011.5 906.4h0M1023.1 906.4h0M1046.1 906.5h0M1057.7 906.5h0M901.9 915.9h0M913.5 915.9h0M925.0 916.0h0M936.5 916.0h0M948.1 916.1h0M959.6 916.1h0M971.1 916.2h0M982.7 916.2h0M1005.7 916.3h0M1017.3 916.4h0M1028.8 916.4h0M1040.3 916.5h0M1051.9 916.5h0M1063.4 916.6h0M319.5 923.4h0M907.7 925.9h0M919.2 925.9h0M930.7 926.0h0M953.8 926.1h0M965.3 926.1h0M976.9 926.2h0M988.4 926.2h0M1011.5 926.3h0M1023.0 926.4h0M1034.5 926.4h0M1046.1 926.5h0M325.2 933.4h0M336.7 933.5h0M913.4 935.9h0M924.9 935.9h0M948.0 936.0h0M1017.2 936.3h0M1028.7 936.4h0M1040.2 936.4h0M930.6 945.9h0M942.2 946.0h0M953.7 946.0h0M965.2 946.1h0M999.8 946.2h0M1022.9 946.3h0M1034.4 946.4h0M1046.0 946.4h0M1069.0 946.5h0M936.4 955.9h0M947.9 956.0h0M959.4 956.0h0M971.0 956.1h0M994.0 956.2h0M1017.1 956.3h0M1028.6 956.3h0M1040.2 956.4h0M1051.7 956.4h0M930.6 965.9h0M942.1 965.9h0M953.6 966.0h0M965.2 966.0h0M976.7 966.1h0M1022.8 966.3h0M1034.4 966.3h0M1045.9 966.4h0M1057.4 966.4h0M936.3 975.9h0M947.8 975.9h0M959.3 976.0h0M970.9 976.0h0M982.4 976.1h0M1028.5 976.3h0M1040.1 976.3h0M1051.6 976.4h0M930.5 985.8h0M942.0 985.9h0M965.1 986.0h0M976.6 986.0h0M988.1 986.1h0M1022.7 986.2h0M1034.3 986.3h0M1045.8 986.3h0M936.2 995.8h0M959.3 995.9h0M970.8 996.0h0M982.3 996.0h0M993.9 996.1h0M1028.5 996.2h0M1040.0 996.3h0M1063.1 996.4h0M941.9 1005.8h0M953.5 1005.9h0M965.0 1005.9h0M976.5 1006.0h0M988.1 1006.0h0M999.6 1006.1h0M1045.7 1006.3h0M1057.3 1006.3h0M936.1 1015.8h0M947.6 1015.9h0M959.2 1015.9h0M982.2 1016.0h0M993.8 1016.0h0M1005.3 1016.1h0M1028.4 1016.2h0M1051.4 1016.3h0M1063.0 1016.3h0M930.3 1025.8h0M941.8 1025.8h0M988.0 1026.0h0M1011.0 1026.1h0M1045.6 1026.2h0M1057.2 1026.3h0M1068.7 1026.3h0M936.0 1035.8h0M947.6 1035.8h0M1016.8 1036.1h0M1039.8 1036.2h0M1051.4 1036.2h0M930.2 1045.7h0M987.9 1046.0h0M1022.5 1046.1h0M1045.6 1046.2h0M1057.1 1046.2h0M993.6 1056.0h0M1051.3 1056.2h0M987.8 1065.9h0M999.3 1066.0h0M1010.9 1066.0h0M1045.5 1066.1h0M982.0 1075.9h0M993.5 1075.9h0M1005.1 1076.0h0M1085.8 1076.3h0M1097.3 1076.3h0M987.7 1085.9h0M999.3 1085.9h0M1010.8 1086.0h0M1045.4 1086.1h0M1016.5 1096.0h0M1051.1 1096.1h0M1085.7 1096.3h0M953.0 1105.7h0M1079.9 1106.2h0M1091.4 1106.3h0M1016.4 1115.9h0M1039.5 1116.0h0M1051.0 1116.1h0M1085.6 1116.2h0M1022.2 1125.9h0M1033.7 1126.0h0M1045.2 1126.0h0M1091.4 1126.2h0M1102.9 1126.3h0M1027.9 1135.9h0M1039.4 1136.0h0M1074.0 1136.1h0M1085.5 1136.2h0M1097.1 1136.2h0M1056.7 1146.0h0M1079.7 1146.1h0M1102.8 1146.2h0M1050.9 1156.0h0M1062.4 1156.0h0M1073.9 1156.1h0M1085.5 1156.1h0M1045.1 1165.9h0M1056.6 1166.0h0M1079.7 1166.1h0M1039.2 1175.9h0M1050.8 1175.9h0M1073.8 1176.0h0M1033.4 1185.8h0M1045.0 1185.9h0M1079.6 1186.0h0M1027.6 1195.8h0M1039.2 1195.8h0M1021.8 1205.7h0M1033.4 1205.8h0M1016.0 1215.7h0M998.7 1225.6h0M1010.2 1225.7h0M969.8 1235.5h0M1096.7 1236.0h0M975.5 1245.5h0M1090.9 1245.9h0M981.2 1255.5h0M952.4 1265.3h0M963.9 1265.4h0M975.4 1265.4h0M987.0 1265.5h0M1010.0 1265.6h0M1044.6 1265.7h0M969.6 1275.4h0M981.2 1275.4h0M992.7 1275.5h0M1004.2 1275.5h0M1015.8 1275.6h0M1050.4 1275.7h0M1061.9 1275.8h0M1073.4 1275.8h0M1096.5 1275.9h0M963.8 1285.3h0M975.4 1285.4h0M986.9 1285.4h0M998.4 1285.5h0M1010.0 1285.5h0M1021.5 1285.6h0M1056.1 1285.7h0M1067.6 1285.8h0M969.6 1295.3h0M981.1 1295.4h0M992.6 1295.4h0M1004.1 1295.5h0M1015.7 1295.5h0M1027.2 1295.6h0M1038.7 1295.6h0M1050.3 1295.7h0M1061.8 1295.7h0M1073.3 1295.8h0M1084.9 1295.8h0M975.3 1305.3h0M986.8 1305.4h0M998.3 1305.4h0M1009.9 1305.5h0M1021.4 1305.5h0M1032.9 1305.6h0M1044.5 1305.6h0M1056.0 1305.7h0M1067.5 1305.7h0M1079.1 1305.8h0M1090.6 1305.8h0M1102.1 1305.9h0M969.5 1315.3h0M981.0 1315.3h0M992.5 1315.4h0M1004.1 1315.4h0M1015.6 1315.5h0M1027.1 1315.5h0M1038.7 1315.6h0M1050.2 1315.6h0M1061.7 1315.7h0M1073.3 1315.7h0M1084.8 1315.8h0M952.1 1325.2h0M1021.3 1325.5h0M1055.9 1325.6h0"/>
<path fill="none" stroke="#c5b0d5" stroke-width="9.54" stroke-linecap="round" d="M777.1 416.5h0M748.3 426.3h0M759.8 426.4h0M771.3 426.4h0M794.4 426.5h0M742.5 436.3h0M736.6 466.2h0M748.1 466.2h0M764.3 735.7h0M758.4 765.6h0M735.1 825.4h0M729.3 835.3h0M752.3 835.4h0M746.5 845.4h0M758.1 845.4h0M769.6 845.5h0M763.8 855.4h0M758.0 865.4h0M763.7 875.4h0M775.2 875.4h0M786.8 875.5h0M798.3 875.5h0M809.8 875.6h0M856.0 875.8h0M781.0 885.4h0M792.5 885.5h0M804.0 885.5h0M815.6 885.6h0M850.2 885.7h0M861.7 885.8h0M786.7 895.4h0M798.2 895.5h0M809.8 895.5h0M821.3 895.6h0M832.8 895.6h0M844.4 895.7h0M855.9 895.7h0M867.4 895.8h0M792.4 905.4h0M803.9 905.5h0M815.5 905.5h0M827.0 905.6h0M850.1 905.7h0M861.6 905.7h0M873.1 905.8h0M884.7 905.8h0M786.6 915.4h0M798.1 915.4h0M809.7 915.5h0M821.2 915.5h0M832.7 915.6h0M844.3 915.6h0M867.3 915.7h0M878.9 915.8h0M792.3 925.4h0M803.9 925.4h0M815.4 925.5h0M826.9 925.5h0M838.5 925.6h0M850.0 925.6h0M861.5 925.7h0M873.1 925.7h0M798.1 935.4h0M809.6 935.5h0M821.1 935.5h0M832.7 935.5h0M844.2 935.6h0M855.7 935.6h0M867.3 935.7h0M878.8 935.7h0M890.3 935.8h0M803.8 945.4h0M815.3 945.5h0M826.8 945.5h0M838.4 945.5h0M849.9 945.6h0M861.4 945.6h0M873.0 945.7h0M896.0 945.8h0M907.6 945.8h0M919.1 945.9h0M809.5 955.4h0M821.0 955.5h0M832.6 955.5h0M844.1 955.6h0M855.6 955.6h0M867.2 955.6h0M878.7 955.7h0M890.2 955.7h0M901.8 955.8h0M913.3 955.8h0M924.8 955.9h0M803.7 965.4h0M815.2 965.4h0M826.8 965.5h0M838.3 965.5h0M849.8 965.6h0M861.4 965.6h0M872.9 965.6h0M884.4 965.7h0M896.0 965.7h0M907.5 965.8h0M919.0 965.8h0M809.4 975.4h0M821.0 975.4h0M832.5 975.5h0M844.0 975.5h0M855.6 975.6h0M867.1 975.6h0M878.6 975.7h0M890.2 975.7h0M901.7 975.7h0M913.2 975.8h0M815.1 985.4h0M826.7 985.4h0M838.2 985.5h0M849.7 985.5h0M861.3 985.6h0M872.8 985.6h0M884.3 985.7h0M895.9 985.7h0M907.4 985.7h0M820.9 995.4h0M832.4 995.4h0M843.9 995.5h0M855.5 995.5h0M867.0 995.6h0M878.5 995.6h0M890.1 995.7h0M901.6 995.7h0M815.1 1005.3h0M826.6 1005.4h0M838.1 1005.4h0M849.7 1005.5h0M861.2 1005.5h0M872.7 1005.6h0M884.3 1005.6h0M895.8 1005.7h0M809.3 1015.3h0M820.8 1015.3h0M832.3 1015.4h0M843.9 1015.4h0M855.4 1015.5h0M866.9 1015.5h0M878.5 1015.6h0M890.0 1015.6h0M901.5 1015.7h0M913.0 1015.7h0M924.6 1015.8h0M803.4 1025.2h0M815.0 1025.3h0M826.5 1025.3h0M838.0 1025.4h0M849.6 1025.4h0M861.1 1025.5h0M872.6 1025.5h0M884.2 1025.6h0M895.7 1025.6h0M907.2 1025.7h0M918.8 1025.7h0M809.2 1035.2h0M820.7 1035.3h0M832.2 1035.3h0M843.8 1035.4h0M855.3 1035.4h0M866.8 1035.5h0M878.4 1035.5h0M889.9 1035.6h0M901.4 1035.6h0M913.0 1035.7h0M814.9 1045.2h0M826.4 1045.3h0M838.0 1045.3h0M849.5 1045.4h0M861.0 1045.4h0M872.6 1045.5h0M884.1 1045.5h0M895.6 1045.6h0M907.2 1045.6h0M809.1 1055.2h0M820.6 1055.2h0M832.2 1055.3h0M843.7 1055.3h0M855.2 1055.4h0M866.8 1055.4h0M878.3 1055.5h0M889.8 1055.5h0M901.4 1055.6h0M768.7 1065.0h0M814.8 1065.2h0M826.3 1065.2h0M837.9 1065.3h0M849.4 1065.3h0M860.9 1065.4h0M872.5 1065.4h0M884.0 1065.5h0M895.5 1065.5h0M820.5 1075.2h0M832.1 1075.2h0M843.6 1075.3h0M855.1 1075.3h0M866.7 1075.4h0M878.2 1075.4h0M889.7 1075.5h0M849.3 1085.3h0M860.9 1085.3h0M872.4 1085.4h0M883.9 1085.4h0M976.2 1085.8h0M843.5 1095.2h0M855.1 1095.3h0M866.6 1095.3h0M878.1 1095.4h0M889.7 1095.4h0M912.7 1095.5h0M970.4 1095.8h0M981.9 1095.8h0M993.4 1095.9h0M1005.0 1095.9h0M849.2 1105.2h0M860.8 1105.3h0M872.3 1105.3h0M883.8 1105.4h0M895.4 1105.4h0M906.9 1105.5h0M964.6 1105.7h0M976.1 1105.8h0M855.0 1115.2h0M866.5 1115.3h0M878.0 1115.3h0M889.6 1115.4h0M901.1 1115.4h0M912.6 1115.5h0M958.8 1115.7h0M970.3 1115.7h0M981.8 1115.8h0M1004.9 1115.9h0M849.2 1125.2h0M860.7 1125.2h0M872.2 1125.3h0M883.8 1125.3h0M895.3 1125.4h0M906.8 1125.4h0M918.4 1125.5h0M953.0 1125.6h0M964.5 1125.7h0M976.0 1125.7h0M987.6 1125.8h0M1010.6 1125.9h0M854.9 1135.2h0M866.4 1135.2h0M878.0 1135.3h0M889.5 1135.3h0M901.0 1135.4h0M912.6 1135.4h0M924.1 1135.5h0M947.1 1135.6h0M958.7 1135.6h0M970.2 1135.7h0M1004.8 1135.8h0M1016.3 1135.9h0M860.6 1145.2h0M872.1 1145.3h0M883.7 1145.3h0M895.2 1145.3h0M906.7 1145.4h0M918.3 1145.4h0M929.8 1145.5h0M941.3 1145.5h0M952.9 1145.6h0M964.4 1145.6h0M975.9 1145.7h0M987.5 1145.7h0M999.0 1145.8h0M1010.5 1145.8h0M866.3 1155.2h0M877.9 1155.3h0M889.4 1155.3h0M900.9 1155.3h0M912.5 1155.4h0M924.0 1155.4h0M935.5 1155.5h0M947.1 1155.5h0M958.6 1155.6h0M970.1 1155.6h0M981.7 1155.7h0M993.2 1155.7h0M1004.7 1155.8h0M872.1 1165.2h0M883.6 1165.3h0M895.1 1165.3h0M906.7 1165.4h0M918.2 1165.4h0M929.7 1165.4h0M941.3 1165.5h0M952.8 1165.5h0M964.3 1165.6h0M975.9 1165.6h0M987.4 1165.7h0M998.9 1165.7h0M866.3 1175.2h0M877.8 1175.2h0M889.3 1175.3h0M900.9 1175.3h0M912.4 1175.4h0M923.9 1175.4h0M935.5 1175.4h0M947.0 1175.5h0M958.5 1175.5h0M970.0 1175.6h0M981.6 1175.6h0M993.1 1175.7h0M1004.6 1175.7h0M1016.2 1175.8h0M872.0 1185.2h0M883.5 1185.2h0M895.0 1185.3h0M906.6 1185.3h0M918.1 1185.4h0M929.6 1185.4h0M941.2 1185.5h0M952.7 1185.5h0M964.2 1185.5h0M975.8 1185.6h0M987.3 1185.6h0M998.8 1185.7h0M1010.4 1185.7h0M1114.2 1186.2h0M877.7 1195.2h0M889.2 1195.2h0M900.8 1195.3h0M912.3 1195.3h0M923.8 1195.4h0M935.4 1195.4h0M946.9 1195.5h0M958.4 1195.5h0M970.0 1195.5h0M981.5 1195.6h0M993.0 1195.6h0M1004.6 1195.7h0M883.4 1205.2h0M895.0 1205.2h0M906.5 1205.3h0M918.0 1205.3h0M929.6 1205.4h0M941.1 1205.4h0M952.6 1205.5h0M964.2 1205.5h0M975.7 1205.6h0M987.2 1205.6h0M998.8 1205.6h0M889.2 1215.2h0M900.7 1215.2h0M912.2 1215.3h0M923.8 1215.3h0M935.3 1215.4h0M946.8 1215.4h0M958.4 1215.5h0M969.9 1215.5h0M981.4 1215.6h0M1004.5 1215.6h0M883.3 1225.1h0M894.9 1225.2h0M906.4 1225.2h0M917.9 1225.3h0M929.5 1225.3h0M941.0 1225.4h0M952.5 1225.4h0M964.1 1225.5h0M975.6 1225.5h0M987.1 1225.6h0M889.1 1235.1h0M900.6 1235.2h0M912.1 1235.2h0M923.7 1235.3h0M935.2 1235.3h0M946.7 1235.4h0M958.3 1235.4h0M981.3 1235.5h0M992.9 1235.6h0M1004.4 1235.6h0M883.3 1245.1h0M894.8 1245.1h0M906.3 1245.2h0M917.9 1245.2h0M929.4 1245.3h0M940.9 1245.3h0M952.5 1245.4h0M998.6 1245.6h0M889.0 1255.1h0M900.5 1255.1h0M912.1 1255.2h0M923.6 1255.2h0M935.1 1255.3h0M946.7 1255.3h0M958.2 1255.4h0M969.7 1255.4h0M992.8 1255.5h0M1004.3 1255.6h0M883.2 1265.0h0M894.7 1265.1h0M906.2 1265.1h0M917.8 1265.2h0M929.3 1265.2h0M940.8 1265.3h0M998.5 1265.5h0M888.9 1275.0h0M900.4 1275.1h0M912.0 1275.1h0M923.5 1275.2h0M935.0 1275.2h0M946.6 1275.3h0M883.1 1285.0h0M894.6 1285.0h0M906.2 1285.1h0M917.7 1285.1h0M929.2 1285.2h0M940.8 1285.2h0M952.3 1285.3h0M888.8 1295.0h0M900.4 1295.0h0M911.9 1295.1h0M923.4 1295.1h0M935.0 1295.2h0M946.5 1295.2h0M883.0 1304.9h0M894.5 1305.0h0M906.1 1305.0h0M917.6 1305.1h0M929.1 1305.1h0M940.7 1305.2h0M888.7 1314.9h0M900.3 1315.0h0M911.8 1315.0h0M923.3 1315.1h0M934.9 1315.1h0M946.4 1315.2h0M882.9 1324.9h0M894.5 1324.9h0M906.0 1325.0h0M917.5 1325.0h0M929.1 1325.1h0M940.6 1325.1h0"/>
<path fill="none" stroke="#1f77b4" stroke-width="9.54" stroke-linecap="round" d="M487.4 754.5h0M527.7 764.6h0M550.8 764.7h0M620.0 765.0h0M631.5 765.1h0M643.1 765.1h0M510.4 774.6h0M521.9 774.6h0M614.2 775.0h0M625.7 775.0h0M637.3 775.1h0M648.8 775.1h0M504.6 784.5h0M516.1 784.6h0M527.7 784.6h0M539.2 784.7h0M550.7 784.7h0M596.9 784.9h0M608.4 784.9h0M619.9 785.0h0M631.4 785.0h0M510.3 794.5h0M521.8 794.6h0M533.4 794.6h0M544.9 794.7h0M556.4 794.7h0M602.6 794.9h0M614.1 794.9h0M625.6 795.0h0M637.2 795.0h0M481.4 804.4h0M493.0 804.4h0M504.5 804.5h0M516.0 804.5h0M539.1 804.6h0M550.6 804.7h0M573.7 804.8h0M631.4 805.0h0M666.0 805.1h0M464.1 814.3h0M487.2 814.4h0M510.2 814.5h0M544.8 814.6h0M556.4 814.7h0M567.9 814.7h0M602.5 814.9h0M637.1 815.0h0M648.6 815.0h0M660.2 815.1h0M671.7 815.1h0M683.2 815.2h0M694.8 815.2h0M469.8 824.3h0M481.4 824.3h0M492.9 824.4h0M504.4 824.4h0M516.0 824.5h0M550.6 824.6h0M562.1 824.7h0M573.6 824.7h0M585.2 824.8h0M596.7 824.8h0M608.2 824.9h0M642.8 825.0h0M654.3 825.0h0M665.9 825.1h0M677.4 825.1h0M688.9 825.2h0M700.5 825.2h0M475.5 834.3h0M487.1 834.3h0M498.6 834.4h0M510.1 834.4h0M556.3 834.6h0M567.8 834.7h0M579.3 834.7h0M590.9 834.8h0M602.4 834.8h0M613.9 834.9h0M625.5 834.9h0M637.0 835.0h0M648.5 835.0h0M660.1 835.0h0M671.6 835.1h0M683.1 835.1h0M694.7 835.2h0M706.2 835.2h0M481.3 844.3h0M492.8 844.3h0M504.3 844.4h0M515.9 844.4h0M562.0 844.6h0M573.5 844.7h0M585.1 844.7h0M596.6 844.8h0M608.1 844.8h0M619.7 844.9h0M642.7 845.0h0M654.3 845.0h0M665.8 845.0h0M677.3 845.1h0M688.9 845.1h0M700.4 845.2h0M711.9 845.2h0M723.5 845.3h0M475.5 854.2h0M487.0 854.3h0M498.5 854.3h0M510.1 854.4h0M521.6 854.4h0M556.2 854.6h0M567.7 854.6h0M579.3 854.7h0M613.9 854.8h0M648.5 855.0h0M660.0 855.0h0M671.5 855.1h0M683.1 855.1h0M694.6 855.1h0M706.1 855.2h0M717.7 855.2h0M729.2 855.3h0M740.7 855.3h0M481.2 864.2h0M492.7 864.3h0M504.3 864.3h0M527.3 864.4h0M561.9 864.6h0M573.5 864.6h0M585.0 864.7h0M608.1 864.8h0M619.6 864.8h0M654.2 865.0h0M665.7 865.0h0M677.2 865.1h0M688.8 865.1h0M700.3 865.1h0M711.8 865.2h0M723.4 865.2h0M734.9 865.3h0M746.4 865.3h0M486.9 874.2h0M498.4 874.3h0M510.0 874.3h0M521.5 874.4h0M533.0 874.4h0M567.6 874.6h0M579.2 874.6h0M590.7 874.7h0M602.2 874.7h0M613.8 874.8h0M625.3 874.8h0M659.9 875.0h0M671.4 875.0h0M683.0 875.1h0M694.5 875.1h0M717.6 875.2h0M729.1 875.2h0M740.6 875.3h0M752.2 875.3h0M492.6 884.2h0M504.2 884.3h0M527.2 884.4h0M573.4 884.6h0M596.4 884.7h0M608.0 884.7h0M619.5 884.8h0M665.6 885.0h0M688.7 885.1h0M700.2 885.1h0M711.8 885.2h0M723.3 885.2h0M734.8 885.2h0M746.4 885.3h0M757.9 885.3h0M486.8 894.2h0M498.4 894.2h0M509.9 894.3h0M521.4 894.3h0M533.0 894.4h0M567.6 894.5h0M579.1 894.6h0M590.6 894.6h0M602.2 894.7h0M613.7 894.7h0M625.2 894.8h0M671.4 895.0h0M694.4 895.1h0M706.0 895.1h0M717.5 895.2h0M729.0 895.2h0M740.6 895.3h0M752.1 895.3h0M763.6 895.3h0M775.2 895.4h0M492.6 904.2h0M504.1 904.2h0M515.6 904.3h0M527.2 904.3h0M538.7 904.4h0M573.3 904.5h0M584.8 904.6h0M596.4 904.6h0M619.4 904.7h0M665.5 904.9h0M677.1 905.0h0M688.6 905.0h0M711.7 905.1h0M723.2 905.2h0M734.7 905.2h0M746.3 905.3h0M757.8 905.3h0M769.3 905.3h0M498.3 914.2h0M509.8 914.2h0M521.3 914.3h0M532.9 914.3h0M579.0 914.5h0M590.5 914.6h0M671.3 914.9h0M682.8 915.0h0M705.9 915.1h0M717.4 915.1h0M728.9 915.2h0M740.5 915.2h0M752.0 915.3h0M763.5 915.3h0M775.1 915.4h0M504.0 924.2h0M515.5 924.2h0M527.1 924.3h0M538.6 924.3h0M665.5 924.9h0M677.0 924.9h0M688.5 925.0h0M711.6 925.1h0M723.1 925.1h0M734.7 925.2h0M746.2 925.2h0M757.7 925.3h0M769.3 925.3h0M780.8 925.4h0M498.2 934.2h0M509.7 934.2h0M521.3 934.2h0M532.8 934.3h0M671.2 934.9h0M682.7 934.9h0M694.3 935.0h0M705.8 935.0h0M717.3 935.1h0M728.9 935.1h0M740.4 935.2h0M751.9 935.2h0M763.5 935.3h0M775.0 935.3h0M786.5 935.4h0M503.9 944.2h0M515.5 944.2h0M527.0 944.3h0M538.5 944.3h0M665.4 944.8h0M676.9 944.9h0M688.4 944.9h0M700.0 945.0h0M711.5 945.0h0M723.0 945.1h0M734.6 945.1h0M746.1 945.2h0M757.6 945.2h0M769.2 945.3h0M780.7 945.3h0M792.2 945.4h0M509.6 954.2h0M521.2 954.2h0M532.7 954.3h0M648.0 954.7h0M659.6 954.8h0M671.1 954.8h0M682.6 954.9h0M694.2 954.9h0M705.7 955.0h0M717.2 955.0h0M728.8 955.1h0M740.3 955.1h0M751.8 955.2h0M763.4 955.2h0M774.9 955.3h0M786.4 955.3h0M798.0 955.4h0M515.4 964.2h0M526.9 964.2h0M619.2 964.6h0M630.7 964.6h0M642.2 964.7h0M653.8 964.7h0M665.3 964.8h0M676.8 964.8h0M688.4 964.9h0M699.9 964.9h0M723.0 965.0h0M734.5 965.1h0M746.0 965.1h0M757.6 965.2h0M769.1 965.2h0M780.6 965.3h0M792.2 965.3h0M521.1 974.2h0M532.6 974.2h0M636.4 974.6h0M648.0 974.7h0M659.5 974.7h0M671.0 974.8h0M682.6 974.8h0M694.1 974.9h0M705.6 974.9h0M717.2 975.0h0M728.7 975.0h0M751.8 975.1h0M763.3 975.2h0M774.8 975.2h0M786.4 975.3h0M797.9 975.3h0M526.8 984.2h0M538.4 984.2h0M665.2 984.7h0M676.7 984.8h0M688.3 984.8h0M699.8 984.9h0M711.3 984.9h0M722.9 985.0h0M734.4 985.0h0M745.9 985.1h0M757.5 985.1h0M780.5 985.2h0M792.1 985.3h0M803.6 985.3h0M521.0 994.1h0M532.5 994.2h0M544.1 994.2h0M636.3 994.6h0M647.9 994.6h0M670.9 994.7h0M682.5 994.8h0M694.0 994.8h0M705.5 994.9h0M717.1 994.9h0M740.1 995.0h0M751.7 995.1h0M786.3 995.2h0M797.8 995.3h0M526.7 1004.1h0M538.3 1004.2h0M549.8 1004.2h0M561.3 1004.3h0M630.5 1004.6h0M642.1 1004.6h0M653.6 1004.6h0M665.1 1004.7h0M676.7 1004.7h0M688.2 1004.8h0M699.7 1004.8h0M711.3 1004.9h0M722.8 1004.9h0M734.3 1005.0h0M745.9 1005.0h0M757.4 1005.1h0M768.9 1005.1h0M780.5 1005.2h0M532.5 1014.1h0M544.0 1014.2h0M555.5 1014.2h0M567.1 1014.3h0M578.6 1014.3h0M636.3 1014.6h0M647.8 1014.6h0M659.3 1014.6h0M670.9 1014.7h0M682.4 1014.7h0M693.9 1014.8h0M705.5 1014.8h0M717.0 1014.9h0M728.5 1014.9h0M740.1 1015.0h0M751.6 1015.0h0M763.1 1015.1h0M774.7 1015.1h0M786.2 1015.2h0M526.7 1024.1h0M538.2 1024.1h0M549.7 1024.2h0M561.3 1024.2h0M572.8 1024.3h0M584.3 1024.3h0M595.9 1024.4h0M607.4 1024.4h0M653.5 1024.6h0M665.1 1024.7h0M676.6 1024.7h0M688.1 1024.7h0M699.6 1024.8h0M711.2 1024.8h0M722.7 1024.9h0M734.2 1024.9h0M745.8 1025.0h0M757.3 1025.0h0M768.8 1025.1h0M780.4 1025.1h0M791.9 1025.2h0M543.9 1034.1h0M555.4 1034.2h0M567.0 1034.2h0M578.5 1034.3h0M590.0 1034.3h0M601.6 1034.4h0M613.1 1034.4h0M624.6 1034.5h0M647.7 1034.6h0M659.2 1034.6h0M670.8 1034.7h0M682.3 1034.7h0M693.8 1034.7h0M705.4 1034.8h0M716.9 1034.8h0M728.4 1034.9h0M740.0 1034.9h0M751.5 1035.0h0M763.0 1035.0h0M774.6 1035.1h0M786.1 1035.1h0M797.6 1035.2h0M549.6 1044.1h0M561.2 1044.2h0M572.7 1044.2h0M584.2 1044.3h0M595.8 1044.3h0M607.3 1044.4h0M618.8 1044.4h0M630.4 1044.5h0M665.0 1044.6h0M676.5 1044.7h0M688.0 1044.7h0M699.6 1044.8h0M711.1 1044.8h0M722.6 1044.8h0M734.2 1044.9h0M745.7 1044.9h0M757.2 1045.0h0M768.8 1045.0h0M780.3 1045.1h0M791.8 1045.1h0M803.4 1045.2h0M543.8 1054.1h0M555.4 1054.1h0M566.9 1054.2h0M578.4 1054.2h0M590.0 1054.3h0M601.5 1054.3h0M613.0 1054.4h0M624.6 1054.4h0M682.2 1054.7h0M693.8 1054.7h0M705.3 1054.8h0M716.8 1054.8h0M728.4 1054.8h0M739.9 1054.9h0M751.4 1054.9h0M774.5 1055.0h0M786.0 1055.1h0M797.6 1055.1h0M549.6 1064.1h0M561.1 1064.1h0M572.6 1064.2h0M584.2 1064.2h0M595.7 1064.3h0M607.2 1064.3h0M618.8 1064.4h0M630.3 1064.4h0M688.0 1064.7h0M699.5 1064.7h0M711.0 1064.8h0M722.5 1064.8h0M780.2 1065.0h0M791.7 1065.1h0M566.8 1074.1h0M578.3 1074.2h0M589.9 1074.2h0M601.4 1074.3h0M612.9 1074.3h0M624.5 1074.4h0M682.1 1074.6h0M693.7 1074.7h0M705.2 1074.7h0M716.7 1074.8h0M728.3 1074.8h0M751.3 1074.9h0M762.9 1074.9h0M785.9 1075.0h0M797.5 1075.1h0M561.0 1084.1h0M572.5 1084.1h0M584.1 1084.2h0M595.6 1084.2h0M607.1 1084.3h0M653.3 1084.5h0M687.9 1084.6h0M699.4 1084.7h0M710.9 1084.7h0M722.5 1084.8h0M734.0 1084.8h0M745.5 1084.9h0M757.1 1084.9h0M768.6 1085.0h0M780.1 1085.0h0M791.7 1085.0h0M803.2 1085.1h0M814.7 1085.1h0M826.3 1085.2h0M837.8 1085.2h0M566.7 1094.1h0M578.3 1094.1h0M589.8 1094.2h0M601.3 1094.2h0M612.9 1094.3h0M647.5 1094.4h0M659.0 1094.5h0M682.1 1094.6h0M693.6 1094.6h0M705.1 1094.7h0M716.7 1094.7h0M728.2 1094.8h0M739.7 1094.8h0M751.3 1094.9h0M762.8 1094.9h0M774.3 1095.0h0M785.9 1095.0h0M797.4 1095.0h0M808.9 1095.1h0M820.5 1095.1h0M832.0 1095.2h0M595.5 1104.2h0M641.7 1104.4h0M653.2 1104.4h0M676.3 1104.5h0M687.8 1104.6h0M699.3 1104.6h0M710.8 1104.7h0M722.4 1104.7h0M733.9 1104.8h0M745.4 1104.8h0M757.0 1104.9h0M768.5 1104.9h0M780.0 1105.0h0M791.6 1105.0h0M803.1 1105.1h0M814.6 1105.1h0M826.2 1105.1h0M837.7 1105.2h0M647.4 1114.4h0M658.9 1114.4h0M682.0 1114.5h0M693.5 1114.6h0M705.0 1114.6h0M716.6 1114.7h0M728.1 1114.7h0M739.6 1114.8h0M751.2 1114.8h0M762.7 1114.9h0M774.2 1114.9h0M785.8 1115.0h0M797.3 1115.0h0M808.8 1115.1h0M820.4 1115.1h0M831.9 1115.1h0M843.4 1115.2h0M641.6 1124.3h0M653.1 1124.4h0M664.6 1124.4h0M687.7 1124.5h0M699.2 1124.6h0M710.8 1124.6h0M722.3 1124.7h0M733.8 1124.7h0M745.4 1124.8h0M756.9 1124.8h0M768.4 1124.9h0M780.0 1124.9h0M791.5 1125.0h0M803.0 1125.0h0M814.6 1125.1h0M826.1 1125.1h0M837.6 1125.2h0M635.8 1134.3h0M647.3 1134.3h0M658.8 1134.4h0M693.4 1134.5h0M705.0 1134.6h0M716.5 1134.6h0M728.0 1134.7h0M739.6 1134.7h0M751.1 1134.8h0M762.6 1134.8h0M774.2 1134.9h0M785.7 1134.9h0M797.2 1135.0h0M808.8 1135.0h0M820.3 1135.1h0M831.8 1135.1h0M843.4 1135.2h0M630.0 1144.2h0M641.5 1144.3h0M653.0 1144.3h0M687.6 1144.5h0M699.2 1144.5h0M710.7 1144.6h0M722.2 1144.6h0M733.7 1144.7h0M745.3 1144.7h0M756.8 1144.8h0M768.3 1144.8h0M779.9 1144.9h0M791.4 1144.9h0M802.9 1145.0h0M814.5 1145.0h0M826.0 1145.1h0M837.5 1145.1h0M849.1 1145.2h0M635.7 1154.2h0M647.2 1154.3h0M670.3 1154.4h0M681.8 1154.4h0M693.3 1154.5h0M704.9 1154.5h0M716.4 1154.6h0M727.9 1154.6h0M739.5 1154.7h0M751.0 1154.7h0M762.5 1154.8h0M774.1 1154.8h0M785.6 1154.9h0M797.1 1154.9h0M808.7 1155.0h0M820.2 1155.0h0M831.7 1155.1h0M843.3 1155.1h0M854.8 1155.2h0M618.3 1164.2h0M641.4 1164.2h0M652.9 1164.3h0M676.0 1164.4h0M687.5 1164.4h0M699.1 1164.5h0M710.6 1164.5h0M722.1 1164.6h0M733.7 1164.6h0M745.2 1164.7h0M756.7 1164.7h0M768.3 1164.8h0M779.8 1164.8h0M791.3 1164.9h0M802.9 1164.9h0M814.4 1165.0h0M825.9 1165.0h0M837.5 1165.1h0M849.0 1165.1h0M860.5 1165.2h0M612.5 1174.1h0M624.1 1174.2h0M635.6 1174.2h0M647.1 1174.2h0M658.7 1174.3h0M670.2 1174.3h0M681.7 1174.4h0M693.3 1174.4h0M704.8 1174.5h0M716.3 1174.5h0M727.9 1174.6h0M739.4 1174.6h0M750.9 1174.7h0M762.5 1174.7h0M774.0 1174.8h0M785.5 1174.8h0M808.6 1174.9h0M820.1 1175.0h0M831.7 1175.0h0M843.2 1175.1h0M854.7 1175.1h0M595.2 1184.0h0M606.7 1184.1h0M618.3 1184.1h0M629.8 1184.2h0M641.3 1184.2h0M652.9 1184.3h0M664.4 1184.3h0M675.9 1184.3h0M687.5 1184.4h0M699.0 1184.4h0M710.5 1184.5h0M722.1 1184.5h0M733.6 1184.6h0M745.1 1184.6h0M756.6 1184.7h0M768.2 1184.7h0M779.7 1184.8h0M791.2 1184.8h0M802.8 1184.9h0M814.3 1184.9h0M825.8 1185.0h0M837.4 1185.0h0M848.9 1185.1h0M860.4 1185.1h0M589.4 1194.0h0M600.9 1194.0h0M612.4 1194.1h0M624.0 1194.1h0M658.6 1194.3h0M670.1 1194.3h0M681.6 1194.3h0M693.2 1194.4h0M704.7 1194.4h0M716.2 1194.5h0M727.8 1194.5h0M739.3 1194.6h0M750.8 1194.6h0M762.4 1194.7h0M785.4 1194.8h0M797.0 1194.8h0M808.5 1194.9h0M820.0 1194.9h0M831.6 1195.0h0M843.1 1195.0h0M854.6 1195.1h0M866.2 1195.1h0M583.6 1203.9h0M595.1 1204.0h0M606.6 1204.0h0M618.2 1204.1h0M629.7 1204.1h0M664.3 1204.3h0M675.8 1204.3h0M687.4 1204.3h0M698.9 1204.4h0M710.4 1204.4h0M722.0 1204.5h0M745.0 1204.6h0M756.6 1204.6h0M768.1 1204.7h0M779.6 1204.7h0M791.2 1204.8h0M802.7 1204.8h0M814.2 1204.9h0M825.8 1204.9h0M837.3 1205.0h0M848.8 1205.0h0M860.4 1205.1h0M589.3 1213.9h0M600.8 1214.0h0M612.4 1214.0h0M623.9 1214.1h0M681.6 1214.3h0M693.1 1214.4h0M704.6 1214.4h0M716.2 1214.4h0M727.7 1214.5h0M750.8 1214.6h0M762.3 1214.6h0M773.8 1214.7h0M785.4 1214.7h0M796.9 1214.8h0M808.4 1214.8h0M820.0 1214.9h0M831.5 1214.9h0M843.0 1215.0h0M854.6 1215.0h0M866.1 1215.1h0M595.0 1223.9h0M606.6 1224.0h0M698.8 1224.4h0M710.4 1224.4h0M721.9 1224.4h0M733.4 1224.5h0M744.9 1224.5h0M756.5 1224.6h0M768.0 1224.6h0M779.5 1224.7h0M791.1 1224.7h0M802.6 1224.8h0M814.1 1224.8h0M825.7 1224.9h0M837.2 1224.9h0M848.7 1225.0h0M860.3 1225.0h0M871.8 1225.1h0M704.5 1234.4h0M716.1 1234.4h0M727.6 1234.5h0M739.1 1234.5h0M773.7 1234.6h0M785.3 1234.7h0M796.8 1234.7h0M808.3 1234.8h0M819.9 1234.8h0M831.4 1234.9h0M842.9 1234.9h0M854.5 1235.0h0M866.0 1235.0h0M791.0 1244.7h0M802.5 1244.7h0M814.1 1244.8h0M825.6 1244.8h0M848.7 1244.9h0M860.2 1245.0h0M796.7 1254.7h0M808.3 1254.7h0M819.8 1254.8h0M854.4 1254.9h0M865.9 1255.0h0M802.4 1264.7h0M814.0 1264.7h0M808.2 1274.7h0M854.3 1274.9h0M837.0 1284.8h0M848.5 1284.8h0M860.0 1284.9h0M871.6 1284.9h0M831.2 1294.8h0M842.7 1294.8h0M854.2 1294.8h0M865.8 1294.9h0M836.9 1304.8h0M848.4 1304.8h0M859.9 1304.8h0M871.5 1304.9h0M831.1 1314.7h0M842.6 1314.8h0M854.1 1314.8h0M865.7 1314.9h0M836.8 1324.7h0M848.3 1324.8h0M859.9 1324.8h0M871.4 1324.9h0M854.1 1334.8h0M865.6 1334.8h0M877.1 1334.9h0"/>
<rect x="182.2" y="16.8" width="994.90" height="1476.90" fill="none" stroke="#202020" stroke-width="2.7"/>
<text x="131.64" y="168.84" font-size="51" fill="#262626">0</text>
<path transform="translate(16.76,369.60) scale(0.024902,-0.024902)" d="M115 662L1085 662L1085 815L115 815Z" fill="#262626"/><path transform="translate(46.54,369.60) scale(0.024902,-0.024902)" d="M583 0L763 0L763 1466L646 1466C614 1402 560 1336 486 1267C412 1198 325 1141 223 1110L223 940C280 961 345 990 418 1030C491 1070 546 1108 583 1140Z" fill="#262626"/><text x="74.91" y="369.60" font-size="51" fill="#262626">0</text><text x="103.27" y="369.60" font-size="51" fill="#262626">0</text><text x="131.64" y="369.60" font-size="51" fill="#262626">0</text>
<path transform="translate(16.76,570.36) scale(0.024902,-0.024902)" d="M115 662L1085 662L1085 815L115 815Z" fill="#262626"/><text x="46.54" y="570.36" font-size="51" fill="#262626">2</text><text x="74.91" y="570.36" font-size="51" fill="#262626">0</text><text x="103.27" y="570.36" font-size="51" fill="#262626">0</text><text x="131.64" y="570.36" font-size="51" fill="#262626">0</text>
<path transform="translate(16.76,771.12) scale(0.024902,-0.024902)" d="M115 662L1085 662L1085 815L115 815Z" fill="#262626"/><text x="46.54" y="771.12" font-size="51" fill="#262626">3</text><text x="74.91" y="771.12" font-size="51" fill="#262626">0</text><text x="103.27" y="771.12" font-size="51" fill="#262626">0</text><text x="131.64" y="771.12" font-size="51" fill="#262626">0</text>
<path transform="translate(16.76,971.88) scale(0.024902,-0.024902)" d="M115 662L1085 662L1085 815L115 815Z" fill="#262626"/><text x="46.54" y="971.88" font-size="51" fill="#262626">4</text><text x="74.91" y="971.88" font-size="51" fill="#262626">0</text><text x="103.27" y="971.88" font-size="51" fill="#262626">0</text><text x="131.64" y="971.88" font-size="51" fill="#262626">0</text>
<path transform="translate(16.76,1172.64) scale(0.024902,-0.024902)" d="M115 662L1085 662L1085 815L115 815Z" fill="#262626"/><text x="46.54" y="1172.64" font-size="51" fill="#262626">5</text><text x="74.91" y="1172.64" font-size="51" fill="#262626">0</text><text x="103.27" y="1172.64" font-size="51" fill="#262626">0</text><text x="131.64" y="1172.64" font-size="51" fill="#262626">0</text>
<path transform="translate(16.76,1373.40) scale(0.024902,-0.024902)" d="M115 662L1085 662L1085 815L115 815Z" fill="#262626"/><text x="46.54" y="1373.40" font-size="51" fill="#262626">6</text><text x="74.91" y="1373.40" font-size="51" fill="#262626">0</text><text x="103.27" y="1373.40" font-size="51" fill="#262626">0</text><text x="131.64" y="1373.40" font-size="51" fill="#262626">0</text>
<text x="215.67" y="1552.30" font-size="51" fill="#262626">0</text>
<path transform="translate(373.62,1552.30) scale(0.024902,-0.024902)" d="M583 0L763 0L763 1466L646 1466C614 1402 560 1336 486 1267C412 1198 325 1141 223 1110L223 940C280 961 345 990 418 1030C491 1070 546 1108 583 1140Z" fill="#262626"/><text x="401.99" y="1552.30" font-size="51" fill="#262626">0</text><text x="430.35" y="1552.30" font-size="51" fill="#262626">0</text><text x="458.71" y="1552.30" font-size="51" fill="#262626">0</text>
<text x="574.12" y="1552.30" font-size="51" fill="#262626">2</text><text x="602.49" y="1552.30" font-size="51" fill="#262626">0</text><text x="630.85" y="1552.30" font-size="51" fill="#262626">0</text><text x="659.21" y="1552.30" font-size="51" fill="#262626">0</text>
<text x="774.62" y="1552.30" font-size="51" fill="#262626">3</text><text x="802.99" y="1552.30" font-size="51" fill="#262626">0</text><text x="831.35" y="1552.30" font-size="51" fill="#262626">0</text><text x="859.71" y="1552.30" font-size="51" fill="#262626">0</text>
<text x="975.12" y="1552.30" font-size="51" fill="#262626">4</text><text x="1003.49" y="1552.30" font-size="51" fill="#262626">0</text><text x="1031.85" y="1552.30" font-size="51" fill="#262626">0</text><text x="1060.21" y="1552.30" font-size="51" fill="#262626">0</text>
<rect x="1239.8" y="1395.24" width="73.60" height="98.76" fill="#1f77b4"/>
<line x1="1313.4" y1="1444.97" x2="1327.4" y2="1444.97" stroke="#262626" stroke-width="2.8"/>
<path transform="translate(1335.70,1462.77) scale(0.024902,-0.024902)" d="M583 0L763 0L763 1466L646 1466C614 1402 560 1336 486 1267C412 1198 325 1141 223 1110L223 940C280 961 345 990 418 1030C491 1070 546 1108 583 1140Z" fill="#262626"/>
<rect x="1239.8" y="1296.78" width="73.60" height="98.76" fill="#aec7e8"/>
<line x1="1313.4" y1="1346.51" x2="1327.4" y2="1346.51" stroke="#262626" stroke-width="2.8"/>
<text x="1335.70" y="1364.31" font-size="51" fill="#262626">2</text>
<rect x="1239.8" y="1198.32" width="73.60" height="98.76" fill="#ffbb78"/>
<line x1="1313.4" y1="1248.05" x2="1327.4" y2="1248.05" stroke="#262626" stroke-width="2.8"/>
<text x="1335.70" y="1265.85" font-size="51" fill="#262626">3</text>
<rect x="1239.8" y="1099.86" width="73.60" height="98.76" fill="#2ca02c"/>
<line x1="1313.4" y1="1149.59" x2="1327.4" y2="1149.59" stroke="#262626" stroke-width="2.8"/>
<text x="1335.70" y="1167.39" font-size="51" fill="#262626">4</text>
<rect x="1239.8" y="1001.40" width="73.60" height="98.76" fill="#d62728"/>
<line x1="1313.4" y1="1051.13" x2="1327.4" y2="1051.13" stroke="#262626" stroke-width="2.8"/>
<text x="1335.70" y="1068.93" font-size="51" fill="#262626">5</text>
<rect x="1239.8" y="902.94" width="73.60" height="98.76" fill="#ff9896"/>
<line x1="1313.4" y1="952.67" x2="1327.4" y2="952.67" stroke="#262626" stroke-width="2.8"/>
<text x="1335.70" y="970.47" font-size="51" fill="#262626">6</text>
<rect x="1239.8" y="804.48" width="73.60" height="98.76" fill="#c5b0d5"/>
<line x1="1313.4" y1="854.21" x2="1327.4" y2="854.21" stroke="#262626" stroke-width="2.8"/>
<text x="1335.70" y="872.01" font-size="51" fill="#262626">7</text>
<rect x="1239.8" y="706.02" width="73.60" height="98.76" fill="#8c564b"/>
<line x1="1313.4" y1="755.75" x2="1327.4" y2="755.75" stroke="#262626" stroke-width="2.8"/>
<text x="1335.70" y="773.55" font-size="51" fill="#262626">8</text>
<rect x="1239.8" y="607.56" width="73.60" height="98.76" fill="#e377c2"/>
<line x1="1313.4" y1="657.29" x2="1327.4" y2="657.29" stroke="#262626" stroke-width="2.8"/>
<text x="1335.70" y="675.09" font-size="51" fill="#262626">9</text>
<rect x="1239.8" y="509.10" width="73.60" height="98.76" fill="#f7b6d2"/>
<line x1="1313.4" y1="558.83" x2="1327.4" y2="558.83" stroke="#262626" stroke-width="2.8"/>
<path transform="translate(1335.70,576.63) scale(0.024902,-0.024902)" d="M583 0L763 0L763 1466L646 1466C614 1402 560 1336 486 1267C412 1198 325 1141 223 1110L223 940C280 961 345 990 418 1030C491 1070 546 1108 583 1140Z" fill="#262626"/><text x="1364.06" y="576.63" font-size="51" fill="#262626">0</text>
<rect x="1239.8" y="410.64" width="73.60" height="98.76" fill="#c7c7c7"/>
<line x1="1313.4" y1="460.37" x2="1327.4" y2="460.37" stroke="#262626" stroke-width="2.8"/>
<path transform="translate(1335.70,478.17) scale(0.024902,-0.024902)" d="M583 0L763 0L763 1466L646 1466C614 1402 560 1336 486 1267C412 1198 325 1141 223 1110L223 940C280 961 345 990 418 1030C491 1070 546 1108 583 1140Z" fill="#262626"/><path transform="translate(1364.06,478.17) scale(0.024902,-0.024902)" d="M583 0L763 0L763 1466L646 1466C614 1402 560 1336 486 1267C412 1198 325 1141 223 1110L223 940C280 961 345 990 418 1030C491 1070 546 1108 583 1140Z" fill="#262626"/>
<rect x="1239.8" y="312.18" width="73.60" height="98.76" fill="#bcbd22"/>
<line x1="1313.4" y1="361.91" x2="1327.4" y2="361.91" stroke="#262626" stroke-width="2.8"/>
<path transform="translate(1335.70,379.71) scale(0.024902,-0.024902)" d="M583 0L763 0L763 1466L646 1466C614 1402 560 1336 486 1267C412 1198 325 1141 223 1110L223 940C280 961 345 990 418 1030C491 1070 546 1108 583 1140Z" fill="#262626"/><text x="1364.06" y="379.71" font-size="51" fill="#262626">2</text>
<rect x="1239.8" y="213.72" width="73.60" height="98.76" fill="#17becf"/>
<line x1="1313.4" y1="263.45" x2="1327.4" y2="263.45" stroke="#262626" stroke-width="2.8"/>
<path transform="translate(1335.70,281.25) scale(0.024902,-0.024902)" d="M583 0L763 0L763 1466L646 1466C614 1402 560 1336 486 1267C412 1198 325 1141 223 1110L223 940C280 961 345 990 418 1030C491 1070 546 1108 583 1140Z" fill="#262626"/><text x="1364.06" y="281.25" font-size="51" fill="#262626">3</text>
<rect x="1239.8" y="115.26" width="73.60" height="98.76" fill="#9edae5"/>
<line x1="1313.4" y1="164.99" x2="1327.4" y2="164.99" stroke="#262626" stroke-width="2.8"/>
<path transform="translate(1335.70,182.79) scale(0.024902,-0.024902)" d="M583 0L763 0L763 1466L646 1466C614 1402 560 1336 486 1267C412 1198 325 1141 223 1110L223 940C280 961 345 990 418 1030C491 1070 546 1108 583 1140Z" fill="#262626"/><text x="1364.06" y="182.79" font-size="51" fill="#262626">4</text>
<rect x="1239.8" y="16.80" width="73.60" height="98.76" fill="#d9d9d9"/>
<line x1="1313.4" y1="66.53" x2="1327.4" y2="66.53" stroke="#262626" stroke-width="2.8"/>
<text x="1335.7" y="83.93" font-size="51" fill="#262626">No label</text>
<rect x="1239.8" y="16.8" width="73.60" height="1476.90" fill="none" stroke="#202020" stroke-width="2.7"/>
<text transform="translate(1572,755.3) rotate(-90)" font-size="56" fill="#262626" text-anchor="middle">Spot cluster</text>
</svg></body></html>
